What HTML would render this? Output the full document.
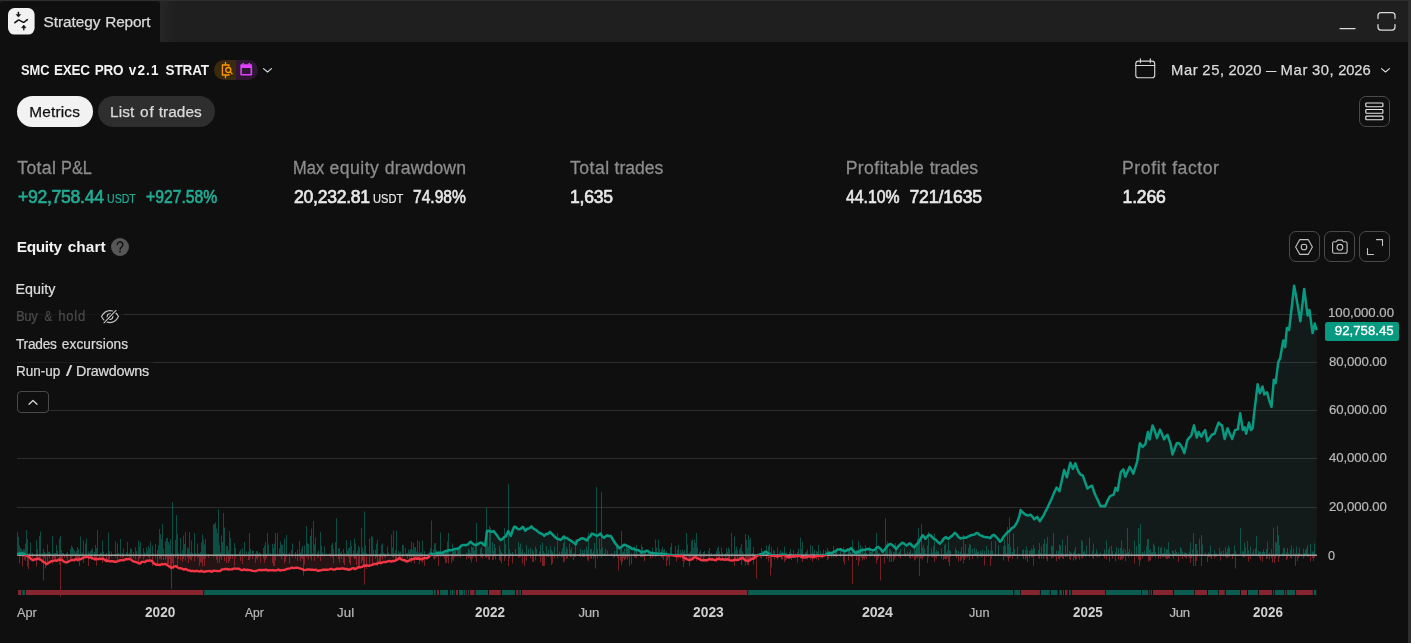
<!DOCTYPE html>
<html lang="en"><head><meta charset="utf-8"><title>Strategy Report</title>
<style>
*{box-sizing:border-box;margin:0;padding:0}
html,body{width:1411px;height:643px;overflow:hidden;background:#0f0f0f}
body{position:relative;font-family:"Liberation Sans",sans-serif;color:#dbdbdb}
.abs{position:absolute;display:block}
.t{position:absolute;white-space:pre;transform-origin:0 50%}
.btn{position:absolute;border:1px solid #4a4a4a;border-radius:7px}
</style></head><body>
<!-- header strip -->
<div class="abs" style="left:0;top:0;width:1411px;height:42px;background:#1f1f1f"></div>
<div class="abs" style="left:0;top:0;width:1411px;height:1px;background:#2e2e2e"></div>
<div class="abs" style="left:160px;top:1px;width:16px;height:41px;background:linear-gradient(90deg,#262626,#1f1f1f)"></div>
<div class="abs" style="left:0;top:1px;width:160px;height:41px;background:#0f0f0f;border-radius:4px 4px 0 0"></div>
<div class="abs" style="left:1408px;top:0;width:3px;height:643px;background:#2e2e2e"></div>
<!-- tab icon -->
<svg class="abs" style="left:8px;top:8px" width="27" height="27" viewBox="0 0 27 27">
<rect x="0" y="0" width="26.6" height="26.6" rx="6.5" fill="#f2f2f2"/>
<path d="M6.9 14.7 L9.9 12.3 Q10.6 11.8 11.3 12.2 L14.8 14.1 Q15.6 14.5 16.3 14 L19.4 11.6" fill="none" stroke="#0f0f0f" stroke-width="1.55" stroke-linecap="round" stroke-linejoin="round"/>
<path d="M10.4 4.3v3" fill="none" stroke="#0f0f0f" stroke-width="1.3" stroke-linecap="round"/>
<path d="M8.1 6.4h4.6l-2.300 2.700z" fill="#0f0f0f" stroke="#0f0f0f" stroke-width="0.5" stroke-linejoin="round"/>
<path d="M15.8 21.800v-3" fill="none" stroke="#0f0f0f" stroke-width="1.3" stroke-linecap="round"/>
<path d="M13.500 19.800h4.600l-2.300-2.700z" fill="#0f0f0f" stroke="#0f0f0f" stroke-width="0.5" stroke-linejoin="round"/>
</svg>
<!-- window controls -->
<svg class="abs" style="left:1330px;top:4px" width="72" height="34" viewBox="1330 4 72 34" fill="none" stroke="#dbdbdb" stroke-width="1.25" stroke-linecap="round">
<path d="M1340 28.5h15"/>
<path d="M1378 18.5v-3a3 3 0 0 1 3-3h11a3 3 0 0 1 3 3v3M1378 24.5v2.5a3 3 0 0 0 3 3h11a3 3 0 0 0 3-3v-2.5"/>
</svg>
<!-- title badges -->
<div class="abs" style="left:214px;top:60px;width:22px;height:20px;background:#3a2a10;border-radius:10px 0 0 10px"></div>
<div class="abs" style="left:236px;top:60px;width:22px;height:20px;background:#2e1733;border-radius:0 10px 10px 0"></div>
<svg class="abs" style="left:214px;top:60px" width="60" height="20" viewBox="214 60 60 20" fill="none">
<g stroke="#ff9800" stroke-width="1.3" stroke-linecap="round" stroke-linejoin="round">
<path d="M225.5 62.3v2.7M225.5 75v2.7M229 66.2V65h-6.6v10H229v-0.6"/>
<circle cx="228.3" cy="70" r="2.5"/>
<path d="M230.2 71.9l1.9 1.9"/>
</g>
<path d="M240.3 65.3a1 1 0 0 1 1-1h1.2v-1.2h1.4v1.2h4.6v-1.2h1.4v1.2h1.2a1 1 0 0 1 1 1v9.2a1 1 0 0 1-1 1h-9.8a1 1 0 0 1-1-1zM241.9 68v5.9h8.6V68z" fill="#e040fb" fill-rule="evenodd"/>
<path d="M263.5 68.6l4 3.4 4-3.4" stroke="#dbdbdb" stroke-width="1.1" stroke-linecap="round" stroke-linejoin="round"/>
</svg>
<!-- date range -->
<svg class="abs" style="left:1130px;top:54px" width="270" height="30" viewBox="1130 54 270 30" fill="none" stroke="#dbdbdb" stroke-width="1.1" stroke-linecap="round" stroke-linejoin="round">
<rect x="1135.8" y="61.1" width="18.9" height="16.7" rx="2.6"/>
<path d="M1135.8 65.5h18.9M1140.4 58.8v4M1150.3 58.8v4"/>
<path d="M1381.5 68.6l4 3.4 4-3.4"/>
</svg>
<!-- pills -->
<div class="abs" style="left:17px;top:95.9px;width:76px;height:30.9px;border-radius:16px;background:#f2f2f2"></div>
<div class="abs" style="left:98px;top:95.9px;width:117.1px;height:30.9px;border-radius:16px;background:#2e2e2e"></div>
<!-- list button -->
<div class="btn" style="left:1359px;top:96px;width:31px;height:31px"></div>
<svg class="abs" style="left:1359px;top:96px" width="31" height="31" viewBox="1359 96 31 31" fill="none" stroke="#e6e6e6" stroke-width="1.15">
<rect x="1365.8" y="103" width="17.1" height="3.7" rx="0.7"/>
<rect x="1365.8" y="109.5" width="17.1" height="3.7" rx="0.7"/>
<rect x="1365.8" y="116.1" width="17.1" height="3.7" rx="0.7"/>
</svg>
<!-- help icon -->
<svg class="abs" style="left:110px;top:237px" width="20" height="20" viewBox="110 237 20 20">
<circle cx="120" cy="247" r="9" fill="#575757"/>
<path d="M117.3 244.6a2.75 2.75 0 1 1 4.4 2.2c-1 .75-1.6 1.2-1.6 2.6" fill="none" stroke="#0f0f0f" stroke-width="1.4" stroke-linecap="round"/>
<circle cx="120.05" cy="251.6" r="0.95" fill="#0f0f0f"/>
</svg>
<!-- chart buttons -->
<div class="btn" style="left:1289px;top:231px;width:31px;height:31px"></div>
<div class="btn" style="left:1324px;top:231px;width:31px;height:31px"></div>
<div class="btn" style="left:1359px;top:231px;width:31px;height:31px"></div>
<svg class="abs" style="left:1289px;top:231px" width="102" height="31" viewBox="1289 231 102 31" fill="none" stroke="#c4c4c4" stroke-width="1.1" stroke-linejoin="round" stroke-linecap="round">
<path d="M1295.6 247l4.2-7.4h8.4l4.2 7.4-4.2 7.4h-8.4z"/>
<circle cx="1304" cy="247" r="2.8"/>
<path d="M1332.6 243.2a1.5 1.5 0 0 1 1.5-1.5h2.3l1.1-1.6h4.6l1.1 1.6h2.4a1.5 1.5 0 0 1 1.5 1.5v8.500a1.5 1.5 0 0 1-1.5 1.5h-11.500a1.5 1.5 0 0 1-1.5-1.5z"/>
<circle cx="1339.9" cy="247.3" r="2.9"/>
<path d="M1376.500 239.600h6v6M1373.500 254.500h-6v-6"/>
</svg>
<svg class="abs" style="left:0;top:270px" width="1411" height="340" viewBox="0 270 1411 340">
<defs>
<clipPath id="cu"><rect x="0" y="270" width="1411" height="285.0"/></clipPath>
<clipPath id="cd"><rect x="0" y="555.0" width="1411" height="60"/></clipPath>
</defs>
<rect x="17" y="314.0" width="1300" height="1" fill="#2e2e2e"/><rect x="17" y="362.0" width="1300" height="1" fill="#2e2e2e"/><rect x="17" y="410.0" width="1300" height="1" fill="#2e2e2e"/><rect x="17" y="458.0" width="1300" height="1" fill="#2e2e2e"/><rect x="17" y="507.0" width="1300" height="1" fill="#2e2e2e"/>
<path d="M17.0,554.5 L20.0,553.5 L22.0,553.4 L24.0,553.8 L27.2,556.2 L29.2,557.0 L31.2,559.2 L33.2,560.3 L34.9,559.1 L36.6,559.2 L38.3,558.5 L39.9,559.5 L41.5,560.2 L43.2,562.0 L44.8,562.4 L46.4,564.3 L48.2,563.3 L50.0,561.9 L51.7,561.1 L53.5,560.8 L55.2,560.4 L57.0,560.8 L58.8,559.5 L60.5,559.8 L62.2,560.2 L63.9,561.7 L65.6,562.3 L67.3,562.3 L69.1,561.2 L70.8,560.3 L72.6,559.8 L74.2,560.4 L75.8,558.9 L77.5,560.0 L79.1,559.1 L80.7,559.3 L82.5,558.1 L84.2,557.4 L86.0,557.1 L87.8,556.7 L89.4,557.7 L91.0,557.3 L92.7,558.4 L94.3,559.0 L95.9,559.3 L97.6,558.9 L99.3,559.0 L101.0,558.8 L102.7,558.8 L104.3,559.5 L106.0,560.8 L107.7,560.5 L109.4,561.4 L111.0,561.2 L112.7,561.2 L114.4,561.8 L116.1,561.8 L117.8,561.2 L119.4,560.5 L121.1,560.3 L122.7,560.4 L124.3,560.0 L126.0,559.0 L127.6,559.2 L129.2,558.8 L131.0,559.7 L132.8,561.2 L134.7,561.8 L136.5,562.1 L138.3,563.3 L140.0,563.6 L141.6,561.9 L143.3,561.9 L145.0,562.0 L146.7,560.7 L148.3,560.8 L150.0,560.4 L151.7,560.8 L153.4,562.9 L155.1,564.2 L156.8,564.9 L158.5,564.8 L160.2,565.1 L162.0,564.0 L163.7,564.4 L165.4,563.9 L167.4,565.3 L169.4,566.6 L171.4,567.8 L173.6,566.9 L175.7,566.1 L177.4,567.3 L179.1,568.2 L180.8,568.2 L182.5,569.0 L184.2,569.5 L185.9,568.9 L187.7,570.2 L189.4,570.4 L191.1,571.2 L192.8,570.8 L194.5,571.4 L196.2,570.8 L197.9,571.1 L199.6,571.6 L201.3,570.8 L203.0,571.6 L204.7,571.8 L206.4,571.2 L208.1,571.1 L209.8,570.9 L211.6,571.9 L213.3,570.8 L215.0,570.9 L216.7,571.0 L218.4,571.1 L220.1,571.1 L221.9,569.4 L223.6,569.4 L225.3,569.0 L227.0,569.0 L228.7,569.5 L230.4,569.4 L232.2,569.4 L233.9,568.5 L235.6,568.6 L237.3,568.7 L239.0,568.8 L240.7,569.8 L242.4,570.2 L244.1,569.3 L245.8,570.1 L247.5,569.8 L249.2,570.1 L251.0,570.3 L252.7,570.9 L254.4,571.1 L256.1,571.0 L257.8,570.3 L259.5,569.8 L261.2,570.2 L262.9,569.9 L264.6,570.0 L266.3,569.7 L268.0,570.5 L269.7,570.2 L271.5,570.1 L273.2,570.3 L274.9,570.5 L276.6,570.4 L278.3,569.5 L280.0,570.5 L281.8,570.1 L283.5,570.0 L285.2,569.7 L286.9,569.0 L288.6,568.6 L290.3,568.4 L292.0,567.7 L293.7,568.2 L295.4,567.8 L297.1,567.6 L298.8,568.1 L300.6,568.7 L302.3,569.1 L304.0,570.1 L305.7,569.9 L307.4,569.5 L309.1,569.4 L310.8,569.7 L312.6,569.7 L314.3,570.1 L316.0,569.6 L317.7,570.9 L319.4,570.5 L321.1,570.4 L322.8,569.7 L324.5,569.7 L326.2,569.6 L327.9,569.7 L329.6,569.3 L331.3,568.7 L333.1,569.6 L334.8,569.6 L336.5,568.7 L338.2,568.7 L339.9,568.9 L341.6,568.4 L343.2,568.5 L344.9,569.0 L346.6,568.9 L348.3,569.9 L350.0,569.5 L351.7,568.6 L353.4,568.1 L355.1,569.1 L356.9,568.1 L358.6,567.1 L360.3,567.3 L362.0,566.9 L363.7,565.6 L365.4,565.8 L367.1,565.3 L368.8,565.8 L370.5,565.4 L372.3,564.9 L374.0,564.0 L375.7,564.1 L377.4,563.5 L379.1,562.7 L380.8,563.2 L382.5,562.4 L384.2,561.9 L385.9,562.1 L387.6,561.3 L389.4,560.9 L391.1,561.6 L392.8,561.0 L394.5,561.0 L396.2,560.1 L397.9,559.3 L399.6,558.1 L401.3,559.4 L403.1,560.2 L404.8,560.2 L406.5,561.5 L408.2,561.0 L409.9,560.2 L411.6,559.1 L413.3,559.3 L415.0,558.4 L416.7,558.7 L418.5,558.5 L420.2,559.0 L421.9,559.2 L423.6,558.4 L425.3,557.9 L427.0,558.2 L428.7,557.1 L431.3,553.6 L433.1,554.2 L435.0,554.1 L436.9,553.1 L438.7,552.8 L440.5,552.7 L442.4,553.0 L444.1,551.8 L445.8,551.0 L447.5,550.9 L449.2,549.9 L450.9,550.2 L452.6,549.9 L454.4,549.0 L456.1,549.0 L457.8,548.5 L459.5,547.8 L461.2,545.6 L462.9,545.1 L464.6,545.1 L466.3,545.2 L468.0,544.4 L470.6,541.7 L472.8,543.8 L474.9,545.1 L476.6,544.9 L478.3,543.9 L480.0,542.8 L481.7,542.7 L483.4,544.6 L485.2,545.6 L486.9,531.1 L488.6,530.8 L490.3,531.6 L492.0,531.8 L493.7,531.1 L495.4,533.2 L497.1,535.4 L498.9,538.4 L500.6,540.0 L502.3,539.2 L504.0,537.2 L505.7,536.5 L508.3,531.1 L510.8,535.9 L512.5,530.8 L514.2,526.8 L515.9,527.1 L517.7,529.1 L519.4,529.3 L521.1,528.5 L522.8,526.8 L525.4,530.7 L527.4,528.7 L529.4,528.3 L531.4,526.3 L533.1,528.4 L534.8,529.3 L536.5,530.3 L538.2,531.9 L540.2,533.3 L542.2,534.0 L544.2,535.9 L546.1,533.8 L548.1,533.9 L550.0,531.9 L551.7,533.8 L553.4,535.3 L555.1,537.0 L556.8,538.7 L558.6,538.9 L560.3,540.0 L562.0,538.8 L563.7,536.5 L565.4,538.0 L567.1,538.1 L568.8,539.6 L570.5,540.4 L572.2,541.7 L574.0,542.8 L575.7,544.4 L577.4,540.5 L579.1,539.9 L580.8,538.6 L582.5,538.2 L584.6,539.2 L586.8,540.5 L588.5,537.6 L590.2,536.5 L591.9,533.6 L593.6,534.1 L595.3,535.1 L597.0,535.9 L598.8,534.9 L600.5,533.6 L602.2,536.4 L603.9,537.9 L605.6,536.5 L607.3,535.3 L609.0,536.2 L610.7,535.9 L612.9,539.5 L615.0,543.0 L617.1,545.6 L619.3,548.2 L621.5,546.7 L623.6,545.1 L625.3,544.8 L627.0,545.9 L628.7,546.5 L630.4,547.3 L632.1,549.0 L633.8,548.6 L635.6,550.0 L637.3,549.9 L639.4,550.7 L641.5,552.4 L643.2,551.8 L645.0,551.6 L646.7,550.7 L648.8,551.9 L650.9,553.0 L652.6,552.9 L654.3,553.3 L656.1,553.5 L657.8,553.6 L659.5,554.2 L661.2,553.4 L662.9,554.3 L664.7,554.0 L666.4,554.3 L668.1,555.2 L669.8,555.0 L671.5,555.1 L673.2,555.3 L674.9,555.8 L676.6,556.1 L678.3,555.6 L680.0,555.9 L681.7,555.9 L683.5,557.2 L685.2,558.4 L687.3,559.3 L689.4,560.1 L691.4,559.4 L693.4,558.0 L695.4,557.1 L697.1,558.0 L698.9,558.9 L700.6,559.8 L702.3,560.4 L704.0,560.0 L705.7,560.2 L707.4,560.2 L709.1,559.1 L710.8,559.5 L712.5,559.3 L714.2,560.0 L715.9,560.0 L717.6,559.0 L719.4,559.0 L721.1,559.6 L722.8,559.1 L724.5,559.8 L726.2,559.5 L727.9,559.2 L729.6,560.2 L731.4,560.4 L733.1,560.6 L734.8,559.5 L736.5,560.1 L738.2,559.8 L739.9,559.0 L741.6,558.1 L743.3,558.4 L745.0,560.3 L746.7,560.5 L748.4,561.0 L750.0,560.1 L751.7,558.7 L753.4,558.8 L755.1,557.1 L756.8,556.0 L758.6,555.1 L760.3,554.2 L762.0,554.1 L763.7,553.0 L765.4,551.6 L767.1,552.4 L768.8,554.0 L770.5,555.4 L772.2,555.7 L774.0,555.8 L775.7,555.9 L777.4,556.7 L779.1,555.8 L780.8,555.7 L782.5,554.7 L784.2,554.7 L785.9,556.2 L787.6,556.8 L789.3,557.6 L791.0,556.5 L792.8,556.5 L794.5,556.5 L796.2,555.9 L797.9,556.1 L799.6,555.6 L801.4,557.2 L803.1,557.1 L804.8,557.6 L806.5,557.1 L808.2,556.4 L809.9,556.6 L811.6,556.2 L813.3,557.2 L815.0,556.7 L816.7,556.1 L818.4,555.6 L820.2,555.8 L821.9,556.3 L823.6,555.4 L825.3,555.3 L827.0,553.8 L828.7,553.1 L830.4,553.0 L832.1,552.9 L833.8,551.7 L835.6,551.2 L837.3,549.6 L839.0,549.5 L840.7,549.3 L842.4,550.6 L844.1,550.7 L845.8,551.2 L847.5,549.6 L849.2,549.9 L850.9,548.2 L852.6,550.1 L854.4,552.1 L856.1,553.3 L857.8,551.8 L859.5,552.1 L861.2,550.1 L862.9,549.9 L864.6,550.1 L866.3,549.2 L868.0,549.0 L869.7,549.2 L871.5,549.9 L873.2,550.2 L874.9,549.7 L876.6,547.6 L878.3,546.8 L880.5,548.8 L882.6,551.9 L884.8,549.2 L886.9,546.5 L888.6,544.8 L890.3,543.9 L892.3,545.0 L894.3,546.8 L896.3,549.0 L898.3,546.2 L900.3,544.4 L902.3,542.7 L904.4,543.9 L906.5,545.6 L908.2,544.2 L910.0,543.4 L912.1,545.7 L914.2,547.3 L915.9,545.0 L917.7,543.3 L919.4,541.3 L921.1,537.8 L922.8,535.3 L925.4,538.8 L927.1,536.6 L928.8,534.8 L930.5,535.4 L932.2,537.1 L933.9,538.8 L935.9,539.7 L938.0,542.3 L940.0,543.6 L941.9,541.5 L943.7,538.8 L945.6,537.1 L948.4,538.9 L950.5,536.9 L952.5,535.6 L954.6,532.9 L956.6,534.2 L958.5,537.1 L960.5,538.5 L962.4,537.9 L964.2,537.6 L966.1,537.7 L968.0,536.7 L969.7,535.8 L971.4,535.2 L973.0,534.7 L974.7,534.4 L976.4,532.9 L978.1,533.5 L979.8,535.1 L981.4,535.7 L983.1,536.5 L984.8,537.1 L986.7,537.3 L988.5,537.5 L990.4,538.0 L992.1,535.7 L993.8,534.8 L995.9,536.5 L998.0,538.8 L1000.1,541.7 L1001.8,539.8 L1003.6,536.7 L1005.3,534.8 L1007.6,532.1 L1010.0,530.5 L1011.9,528.0 L1013.7,527.3 L1015.6,524.9 L1017.5,521.3 L1019.3,516.5 L1020.6,510.0 L1023.1,512.8 L1025.4,514.5 L1027.7,515.6 L1030.5,514.7 L1032.4,516.7 L1034.3,519.3 L1037.1,516.9 L1039.9,521.2 L1041.8,518.0 L1043.6,515.6 L1045.4,511.5 L1047.3,508.1 L1049.7,502.9 L1052.0,497.9 L1054.3,492.2 L1056.6,487.6 L1059.4,491.3 L1061.8,480.5 L1064.1,469.9 L1066.9,477.3 L1068.6,469.7 L1070.3,462.8 L1072.9,468.9 L1075.3,463.3 L1077.2,468.7 L1079.0,472.7 L1080.9,474.8 L1082.8,475.5 L1085.1,482.1 L1087.4,488.5 L1089.8,486.7 L1092.1,485.7 L1093.9,491.5 L1095.8,496.0 L1098.2,500.9 L1100.5,506.3 L1102.8,506.1 L1105.2,506.3 L1107.5,500.7 L1109.8,496.5 L1111.8,495.3 L1113.7,494.5 L1115.6,487.9 L1117.5,490.7 L1119.2,481.4 L1120.8,472.1 L1123.4,469.3 L1125.3,476.8 L1127.4,471.9 L1129.6,466.9 L1131.4,469.8 L1133.3,473.6 L1135.2,467.7 L1137.1,461.8 L1139.9,443.2 L1142.6,446.9 L1145.4,444.1 L1147.9,432.0 L1149.6,439.4 L1152.5,425.4 L1154.8,431.0 L1157.0,438.1 L1160.0,429.6 L1162.0,434.1 L1164.1,439.4 L1165.8,436.5 L1167.5,434.8 L1170.6,444.1 L1172.5,454.4 L1174.7,448.6 L1176.8,443.2 L1178.4,443.0 L1180.0,444.1 L1182.2,447.9 L1184.3,453.1 L1187.4,440.0 L1189.3,437.6 L1191.2,435.7 L1194.0,425.4 L1196.8,437.6 L1198.6,432.0 L1201.4,436.6 L1203.2,432.9 L1205.1,430.1 L1207.4,441.3 L1209.6,438.2 L1211.7,434.8 L1214.5,433.8 L1216.5,428.2 L1218.6,422.6 L1220.3,424.4 L1222.0,425.4 L1224.7,438.9 L1227.5,428.2 L1229.8,433.8 L1232.2,438.9 L1235.0,430.1 L1237.8,429.2 L1240.2,413.3 L1242.8,430.1 L1244.7,427.3 L1246.2,433.8 L1249.0,422.6 L1250.9,430.1 L1252.7,428.2 L1254.0,414.3 L1255.8,399.6 L1257.6,384.3 L1259.8,393.3 L1262.5,386.5 L1264.3,394.4 L1267.0,392.2 L1269.2,400.1 L1271.5,406.8 L1273.8,379.8 L1275.6,383.2 L1278.3,361.8 L1280.1,358.4 L1281.7,349.2 L1283.3,340.4 L1285.1,347.1 L1286.9,328.0 L1289.1,330.2 L1290.8,315.1 L1292.4,301.3 L1294.1,285.8 L1295.8,294.5 L1297.5,304.3 L1300.4,321.2 L1302.3,305.4 L1304.2,289.0 L1305.9,302.5 L1307.6,315.6 L1309.4,309.9 L1312.6,333.1 L1314.8,323.5 L1316.6,330.2 L1316.6,555.0 L17.0,555.0 Z" fill="#3ca08c" fill-opacity="0.09" clip-path="url(#cu)"/>
<path d="M17.0,554.5 L20.0,553.5 L22.0,553.4 L24.0,553.8 L27.2,556.2 L29.2,557.0 L31.2,559.2 L33.2,560.3 L34.9,559.1 L36.6,559.2 L38.3,558.5 L39.9,559.5 L41.5,560.2 L43.2,562.0 L44.8,562.4 L46.4,564.3 L48.2,563.3 L50.0,561.9 L51.7,561.1 L53.5,560.8 L55.2,560.4 L57.0,560.8 L58.8,559.5 L60.5,559.8 L62.2,560.2 L63.9,561.7 L65.6,562.3 L67.3,562.3 L69.1,561.2 L70.8,560.3 L72.6,559.8 L74.2,560.4 L75.8,558.9 L77.5,560.0 L79.1,559.1 L80.7,559.3 L82.5,558.1 L84.2,557.4 L86.0,557.1 L87.8,556.7 L89.4,557.7 L91.0,557.3 L92.7,558.4 L94.3,559.0 L95.9,559.3 L97.6,558.9 L99.3,559.0 L101.0,558.8 L102.7,558.8 L104.3,559.5 L106.0,560.8 L107.7,560.5 L109.4,561.4 L111.0,561.2 L112.7,561.2 L114.4,561.8 L116.1,561.8 L117.8,561.2 L119.4,560.5 L121.1,560.3 L122.7,560.4 L124.3,560.0 L126.0,559.0 L127.6,559.2 L129.2,558.8 L131.0,559.7 L132.8,561.2 L134.7,561.8 L136.5,562.1 L138.3,563.3 L140.0,563.6 L141.6,561.9 L143.3,561.9 L145.0,562.0 L146.7,560.7 L148.3,560.8 L150.0,560.4 L151.7,560.8 L153.4,562.9 L155.1,564.2 L156.8,564.9 L158.5,564.8 L160.2,565.1 L162.0,564.0 L163.7,564.4 L165.4,563.9 L167.4,565.3 L169.4,566.6 L171.4,567.8 L173.6,566.9 L175.7,566.1 L177.4,567.3 L179.1,568.2 L180.8,568.2 L182.5,569.0 L184.2,569.5 L185.9,568.9 L187.7,570.2 L189.4,570.4 L191.1,571.2 L192.8,570.8 L194.5,571.4 L196.2,570.8 L197.9,571.1 L199.6,571.6 L201.3,570.8 L203.0,571.6 L204.7,571.8 L206.4,571.2 L208.1,571.1 L209.8,570.9 L211.6,571.9 L213.3,570.8 L215.0,570.9 L216.7,571.0 L218.4,571.1 L220.1,571.1 L221.9,569.4 L223.6,569.4 L225.3,569.0 L227.0,569.0 L228.7,569.5 L230.4,569.4 L232.2,569.4 L233.9,568.5 L235.6,568.6 L237.3,568.7 L239.0,568.8 L240.7,569.8 L242.4,570.2 L244.1,569.3 L245.8,570.1 L247.5,569.8 L249.2,570.1 L251.0,570.3 L252.7,570.9 L254.4,571.1 L256.1,571.0 L257.8,570.3 L259.5,569.8 L261.2,570.2 L262.9,569.9 L264.6,570.0 L266.3,569.7 L268.0,570.5 L269.7,570.2 L271.5,570.1 L273.2,570.3 L274.9,570.5 L276.6,570.4 L278.3,569.5 L280.0,570.5 L281.8,570.1 L283.5,570.0 L285.2,569.7 L286.9,569.0 L288.6,568.6 L290.3,568.4 L292.0,567.7 L293.7,568.2 L295.4,567.8 L297.1,567.6 L298.8,568.1 L300.6,568.7 L302.3,569.1 L304.0,570.1 L305.7,569.9 L307.4,569.5 L309.1,569.4 L310.8,569.7 L312.6,569.7 L314.3,570.1 L316.0,569.6 L317.7,570.9 L319.4,570.5 L321.1,570.4 L322.8,569.7 L324.5,569.7 L326.2,569.6 L327.9,569.7 L329.6,569.3 L331.3,568.7 L333.1,569.6 L334.8,569.6 L336.5,568.7 L338.2,568.7 L339.9,568.9 L341.6,568.4 L343.2,568.5 L344.9,569.0 L346.6,568.9 L348.3,569.9 L350.0,569.5 L351.7,568.6 L353.4,568.1 L355.1,569.1 L356.9,568.1 L358.6,567.1 L360.3,567.3 L362.0,566.9 L363.7,565.6 L365.4,565.8 L367.1,565.3 L368.8,565.8 L370.5,565.4 L372.3,564.9 L374.0,564.0 L375.7,564.1 L377.4,563.5 L379.1,562.7 L380.8,563.2 L382.5,562.4 L384.2,561.9 L385.9,562.1 L387.6,561.3 L389.4,560.9 L391.1,561.6 L392.8,561.0 L394.5,561.0 L396.2,560.1 L397.9,559.3 L399.6,558.1 L401.3,559.4 L403.1,560.2 L404.8,560.2 L406.5,561.5 L408.2,561.0 L409.9,560.2 L411.6,559.1 L413.3,559.3 L415.0,558.4 L416.7,558.7 L418.5,558.5 L420.2,559.0 L421.9,559.2 L423.6,558.4 L425.3,557.9 L427.0,558.2 L428.7,557.1 L431.3,553.6 L433.1,554.2 L435.0,554.1 L436.9,553.1 L438.7,552.8 L440.5,552.7 L442.4,553.0 L444.1,551.8 L445.8,551.0 L447.5,550.9 L449.2,549.9 L450.9,550.2 L452.6,549.9 L454.4,549.0 L456.1,549.0 L457.8,548.5 L459.5,547.8 L461.2,545.6 L462.9,545.1 L464.6,545.1 L466.3,545.2 L468.0,544.4 L470.6,541.7 L472.8,543.8 L474.9,545.1 L476.6,544.9 L478.3,543.9 L480.0,542.8 L481.7,542.7 L483.4,544.6 L485.2,545.6 L486.9,531.1 L488.6,530.8 L490.3,531.6 L492.0,531.8 L493.7,531.1 L495.4,533.2 L497.1,535.4 L498.9,538.4 L500.6,540.0 L502.3,539.2 L504.0,537.2 L505.7,536.5 L508.3,531.1 L510.8,535.9 L512.5,530.8 L514.2,526.8 L515.9,527.1 L517.7,529.1 L519.4,529.3 L521.1,528.5 L522.8,526.8 L525.4,530.7 L527.4,528.7 L529.4,528.3 L531.4,526.3 L533.1,528.4 L534.8,529.3 L536.5,530.3 L538.2,531.9 L540.2,533.3 L542.2,534.0 L544.2,535.9 L546.1,533.8 L548.1,533.9 L550.0,531.9 L551.7,533.8 L553.4,535.3 L555.1,537.0 L556.8,538.7 L558.6,538.9 L560.3,540.0 L562.0,538.8 L563.7,536.5 L565.4,538.0 L567.1,538.1 L568.8,539.6 L570.5,540.4 L572.2,541.7 L574.0,542.8 L575.7,544.4 L577.4,540.5 L579.1,539.9 L580.8,538.6 L582.5,538.2 L584.6,539.2 L586.8,540.5 L588.5,537.6 L590.2,536.5 L591.9,533.6 L593.6,534.1 L595.3,535.1 L597.0,535.9 L598.8,534.9 L600.5,533.6 L602.2,536.4 L603.9,537.9 L605.6,536.5 L607.3,535.3 L609.0,536.2 L610.7,535.9 L612.9,539.5 L615.0,543.0 L617.1,545.6 L619.3,548.2 L621.5,546.7 L623.6,545.1 L625.3,544.8 L627.0,545.9 L628.7,546.5 L630.4,547.3 L632.1,549.0 L633.8,548.6 L635.6,550.0 L637.3,549.9 L639.4,550.7 L641.5,552.4 L643.2,551.8 L645.0,551.6 L646.7,550.7 L648.8,551.9 L650.9,553.0 L652.6,552.9 L654.3,553.3 L656.1,553.5 L657.8,553.6 L659.5,554.2 L661.2,553.4 L662.9,554.3 L664.7,554.0 L666.4,554.3 L668.1,555.2 L669.8,555.0 L671.5,555.1 L673.2,555.3 L674.9,555.8 L676.6,556.1 L678.3,555.6 L680.0,555.9 L681.7,555.9 L683.5,557.2 L685.2,558.4 L687.3,559.3 L689.4,560.1 L691.4,559.4 L693.4,558.0 L695.4,557.1 L697.1,558.0 L698.9,558.9 L700.6,559.8 L702.3,560.4 L704.0,560.0 L705.7,560.2 L707.4,560.2 L709.1,559.1 L710.8,559.5 L712.5,559.3 L714.2,560.0 L715.9,560.0 L717.6,559.0 L719.4,559.0 L721.1,559.6 L722.8,559.1 L724.5,559.8 L726.2,559.5 L727.9,559.2 L729.6,560.2 L731.4,560.4 L733.1,560.6 L734.8,559.5 L736.5,560.1 L738.2,559.8 L739.9,559.0 L741.6,558.1 L743.3,558.4 L745.0,560.3 L746.7,560.5 L748.4,561.0 L750.0,560.1 L751.7,558.7 L753.4,558.8 L755.1,557.1 L756.8,556.0 L758.6,555.1 L760.3,554.2 L762.0,554.1 L763.7,553.0 L765.4,551.6 L767.1,552.4 L768.8,554.0 L770.5,555.4 L772.2,555.7 L774.0,555.8 L775.7,555.9 L777.4,556.7 L779.1,555.8 L780.8,555.7 L782.5,554.7 L784.2,554.7 L785.9,556.2 L787.6,556.8 L789.3,557.6 L791.0,556.5 L792.8,556.5 L794.5,556.5 L796.2,555.9 L797.9,556.1 L799.6,555.6 L801.4,557.2 L803.1,557.1 L804.8,557.6 L806.5,557.1 L808.2,556.4 L809.9,556.6 L811.6,556.2 L813.3,557.2 L815.0,556.7 L816.7,556.1 L818.4,555.6 L820.2,555.8 L821.9,556.3 L823.6,555.4 L825.3,555.3 L827.0,553.8 L828.7,553.1 L830.4,553.0 L832.1,552.9 L833.8,551.7 L835.6,551.2 L837.3,549.6 L839.0,549.5 L840.7,549.3 L842.4,550.6 L844.1,550.7 L845.8,551.2 L847.5,549.6 L849.2,549.9 L850.9,548.2 L852.6,550.1 L854.4,552.1 L856.1,553.3 L857.8,551.8 L859.5,552.1 L861.2,550.1 L862.9,549.9 L864.6,550.1 L866.3,549.2 L868.0,549.0 L869.7,549.2 L871.5,549.9 L873.2,550.2 L874.9,549.7 L876.6,547.6 L878.3,546.8 L880.5,548.8 L882.6,551.9 L884.8,549.2 L886.9,546.5 L888.6,544.8 L890.3,543.9 L892.3,545.0 L894.3,546.8 L896.3,549.0 L898.3,546.2 L900.3,544.4 L902.3,542.7 L904.4,543.9 L906.5,545.6 L908.2,544.2 L910.0,543.4 L912.1,545.7 L914.2,547.3 L915.9,545.0 L917.7,543.3 L919.4,541.3 L921.1,537.8 L922.8,535.3 L925.4,538.8 L927.1,536.6 L928.8,534.8 L930.5,535.4 L932.2,537.1 L933.9,538.8 L935.9,539.7 L938.0,542.3 L940.0,543.6 L941.9,541.5 L943.7,538.8 L945.6,537.1 L948.4,538.9 L950.5,536.9 L952.5,535.6 L954.6,532.9 L956.6,534.2 L958.5,537.1 L960.5,538.5 L962.4,537.9 L964.2,537.6 L966.1,537.7 L968.0,536.7 L969.7,535.8 L971.4,535.2 L973.0,534.7 L974.7,534.4 L976.4,532.9 L978.1,533.5 L979.8,535.1 L981.4,535.7 L983.1,536.5 L984.8,537.1 L986.7,537.3 L988.5,537.5 L990.4,538.0 L992.1,535.7 L993.8,534.8 L995.9,536.5 L998.0,538.8 L1000.1,541.7 L1001.8,539.8 L1003.6,536.7 L1005.3,534.8 L1007.6,532.1 L1010.0,530.5 L1011.9,528.0 L1013.7,527.3 L1015.6,524.9 L1017.5,521.3 L1019.3,516.5 L1020.6,510.0 L1023.1,512.8 L1025.4,514.5 L1027.7,515.6 L1030.5,514.7 L1032.4,516.7 L1034.3,519.3 L1037.1,516.9 L1039.9,521.2 L1041.8,518.0 L1043.6,515.6 L1045.4,511.5 L1047.3,508.1 L1049.7,502.9 L1052.0,497.9 L1054.3,492.2 L1056.6,487.6 L1059.4,491.3 L1061.8,480.5 L1064.1,469.9 L1066.9,477.3 L1068.6,469.7 L1070.3,462.8 L1072.9,468.9 L1075.3,463.3 L1077.2,468.7 L1079.0,472.7 L1080.9,474.8 L1082.8,475.5 L1085.1,482.1 L1087.4,488.5 L1089.8,486.7 L1092.1,485.7 L1093.9,491.5 L1095.8,496.0 L1098.2,500.9 L1100.5,506.3 L1102.8,506.1 L1105.2,506.3 L1107.5,500.7 L1109.8,496.5 L1111.8,495.3 L1113.7,494.5 L1115.6,487.9 L1117.5,490.7 L1119.2,481.4 L1120.8,472.1 L1123.4,469.3 L1125.3,476.8 L1127.4,471.9 L1129.6,466.9 L1131.4,469.8 L1133.3,473.6 L1135.2,467.7 L1137.1,461.8 L1139.9,443.2 L1142.6,446.9 L1145.4,444.1 L1147.9,432.0 L1149.6,439.4 L1152.5,425.4 L1154.8,431.0 L1157.0,438.1 L1160.0,429.6 L1162.0,434.1 L1164.1,439.4 L1165.8,436.5 L1167.5,434.8 L1170.6,444.1 L1172.5,454.4 L1174.7,448.6 L1176.8,443.2 L1178.4,443.0 L1180.0,444.1 L1182.2,447.9 L1184.3,453.1 L1187.4,440.0 L1189.3,437.6 L1191.2,435.7 L1194.0,425.4 L1196.8,437.6 L1198.6,432.0 L1201.4,436.6 L1203.2,432.9 L1205.1,430.1 L1207.4,441.3 L1209.6,438.2 L1211.7,434.8 L1214.5,433.8 L1216.5,428.2 L1218.6,422.6 L1220.3,424.4 L1222.0,425.4 L1224.7,438.9 L1227.5,428.2 L1229.8,433.8 L1232.2,438.9 L1235.0,430.1 L1237.8,429.2 L1240.2,413.3 L1242.8,430.1 L1244.7,427.3 L1246.2,433.8 L1249.0,422.6 L1250.9,430.1 L1252.7,428.2 L1254.0,414.3 L1255.8,399.6 L1257.6,384.3 L1259.8,393.3 L1262.5,386.5 L1264.3,394.4 L1267.0,392.2 L1269.2,400.1 L1271.5,406.8 L1273.8,379.8 L1275.6,383.2 L1278.3,361.8 L1280.1,358.4 L1281.7,349.2 L1283.3,340.4 L1285.1,347.1 L1286.9,328.0 L1289.1,330.2 L1290.8,315.1 L1292.4,301.3 L1294.1,285.8 L1295.8,294.5 L1297.5,304.3 L1300.4,321.2 L1302.3,305.4 L1304.2,289.0 L1305.9,302.5 L1307.6,315.6 L1309.4,309.9 L1312.6,333.1 L1314.8,323.5 L1316.6,330.2 L1316.6,555.0 L17.0,555.0 Z" fill="#f23645" fill-opacity="0.10" clip-path="url(#cd)"/>
<path d="M18,537h1v18h-1zM19,545.5h1v9.5h-1zM19,548h1v7h-1zM20,548h1v7h-1zM21,549h1v6h-1zM22,551h1v4h-1zM23,549h1v6h-1zM23,552.5h1v2.5h-1zM24,550.5h1v4.5h-1zM24,551h1v4h-1zM24,549.5h1v5.5h-1zM25,543.5h1v11.5h-1zM25,553h1v2h-1zM26,530h1v25h-1zM27,546.5h1v8.5h-1zM27,552.5h1v2.5h-1zM29,553h1v2h-1zM30,549.5h1v5.5h-1zM30,542.5h1v12.5h-1zM30,553h1v2h-1zM32,553h1v2h-1zM36,545.5h1v9.5h-1zM36,551.5h1v3.5h-1zM36,553h1v2h-1zM36,540h1v15h-1zM36,551.5h1v3.5h-1zM37,549h1v6h-1zM39,547.5h1v7.5h-1zM40,553.5h1v1.5h-1zM40,553h1v2h-1zM40,550h1v5h-1zM40,531.5h1v23.5h-1zM42,553h1v2h-1zM43,553h1v2h-1zM43,551.5h1v3.5h-1zM43,549h1v6h-1zM43,551.5h1v3.5h-1zM44,552h1v3h-1zM45,553.5h1v1.5h-1zM45,553.5h1v1.5h-1zM46,553.5h1v1.5h-1zM47,544.5h1v10.5h-1zM48,552h1v3h-1zM49,551.5h1v3.5h-1zM49,553h1v2h-1zM50,553h1v2h-1zM52,552.5h1v2.5h-1zM52,548.5h1v6.5h-1zM53,554.5h1v0.5h-1zM54,554.5h1v0.5h-1zM54,553h1v2h-1zM55,553h1v2h-1zM56,545h1v10h-1zM57,550.5h1v4.5h-1zM59,538.5h1v16.5h-1zM60,552.5h1v2.5h-1zM60,553h1v2h-1zM61,550h1v5h-1zM62,553h1v2h-1zM63,553h1v2h-1zM64,554.5h1v0.5h-1zM66,553h1v2h-1zM66,553h1v2h-1zM66,554.5h1v0.5h-1zM67,552h1v3h-1zM70,549h1v6h-1zM71,545.5h1v9.5h-1zM72,547h1v8h-1zM73,549h1v6h-1zM74,550.5h1v4.5h-1zM75,554.5h1v0.5h-1zM75,552.5h1v2.5h-1zM76,551h1v4h-1zM76,551.5h1v3.5h-1zM77,553h1v2h-1zM77,547h1v8h-1zM77,552h1v3h-1zM77,553.5h1v1.5h-1zM78,549h1v6h-1zM79,554.5h1v0.5h-1zM80,536.5h1v18.5h-1zM82,552.5h1v2.5h-1zM83,540.5h1v14.5h-1zM83,553.5h1v1.5h-1zM83,550h1v5h-1zM85,543.5h1v11.5h-1zM86,538.5h1v16.5h-1zM88,551.5h1v3.5h-1zM89,553h1v2h-1zM90,552h1v3h-1zM90,551h1v4h-1zM91,549.5h1v5.5h-1zM92,548.5h1v6.5h-1zM94,552h1v3h-1zM94,552h1v3h-1zM95,545h1v10h-1zM96,548h1v7h-1zM99,554h1v1h-1zM100,553.5h1v1.5h-1zM100,552.5h1v2.5h-1zM101,553h1v2h-1zM102,540.5h1v14.5h-1zM102,547.5h1v7.5h-1zM103,551.5h1v3.5h-1zM106,553h1v2h-1zM108,548.5h1v6.5h-1zM108,532.5h1v22.5h-1zM108,552h1v3h-1zM109,552.5h1v2.5h-1zM109,551h1v4h-1zM109,553.5h1v1.5h-1zM111,551.5h1v3.5h-1zM115,552.5h1v2.5h-1zM115,549.5h1v5.5h-1zM116,554h1v1h-1zM117,553h1v2h-1zM117,543.5h1v11.5h-1zM117,551.5h1v3.5h-1zM117,545.5h1v9.5h-1zM118,553h1v2h-1zM120,553h1v2h-1zM122,554h1v1h-1zM122,553h1v2h-1zM122,554h1v1h-1zM123,548.5h1v6.5h-1zM123,553h1v2h-1zM123,552.5h1v2.5h-1zM126,552h1v3h-1zM127,553h1v2h-1zM129,552.5h1v2.5h-1zM129,554h1v1h-1zM130,548.5h1v6.5h-1zM130,551.5h1v3.5h-1zM131,548.5h1v6.5h-1zM131,552.5h1v2.5h-1zM133,552h1v3h-1zM133,553h1v2h-1zM135,552.5h1v2.5h-1zM135,553.5h1v1.5h-1zM135,547.5h1v7.5h-1zM135,553h1v2h-1zM135,552h1v3h-1zM135,551h1v4h-1zM136,551h1v4h-1zM138,554.5h1v0.5h-1zM138,540.5h1v14.5h-1zM138,554h1v1h-1zM138,550.5h1v4.5h-1zM138,548.5h1v6.5h-1zM138,554h1v1h-1zM139,546.5h1v8.5h-1zM139,553.5h1v1.5h-1zM140,542h1v13h-1zM143,553.5h1v1.5h-1zM143,548.5h1v6.5h-1zM143,548h1v7h-1zM143,553h1v2h-1zM144,552.5h1v2.5h-1zM146,547.5h1v7.5h-1zM147,551h1v4h-1zM147,552.5h1v2.5h-1zM147,552.5h1v2.5h-1zM148,554h1v1h-1zM148,546h1v9h-1zM149,554.5h1v0.5h-1zM149,548.5h1v6.5h-1zM150,546.5h1v8.5h-1zM150,546.5h1v8.5h-1zM150,541.5h1v13.5h-1zM152,545.5h1v9.5h-1zM152,547.5h1v7.5h-1zM153,553h1v2h-1zM155,552h1v3h-1zM155,544h1v11h-1zM157,550h1v5h-1zM158,549.5h1v5.5h-1zM158,545h1v10h-1zM159,553h1v2h-1zM159,541h1v14h-1zM160,549h1v6h-1zM160,534h1v21h-1zM160,551h1v4h-1zM161,544.5h1v10.5h-1zM161,539h1v16h-1zM163,553h1v2h-1zM163,548.5h1v6.5h-1zM165,553h1v2h-1zM165,553h1v2h-1zM165,541.5h1v13.5h-1zM166,549h1v6h-1zM166,538h1v17h-1zM166,543h1v12h-1zM166,547h1v8h-1zM167,538h1v17h-1zM167,538h1v17h-1zM167,553.5h1v1.5h-1zM168,542h1v13h-1zM169,544.5h1v10.5h-1zM169,553.5h1v1.5h-1zM170,539.5h1v15.5h-1zM170,554.5h1v0.5h-1zM171,553h1v2h-1zM172,542.5h1v12.5h-1zM173,554h1v1h-1zM173,554.5h1v0.5h-1zM173,554.5h1v0.5h-1zM175,540.5h1v14.5h-1zM175,540h1v15h-1zM177,547h1v8h-1zM177,534h1v21h-1zM177,551.5h1v3.5h-1zM178,553h1v2h-1zM180,554h1v1h-1zM180,538h1v17h-1zM181,553.5h1v1.5h-1zM182,553.5h1v1.5h-1zM182,550h1v5h-1zM183,543.5h1v11.5h-1zM183,535.5h1v19.5h-1zM183,553.5h1v1.5h-1zM183,539.5h1v15.5h-1zM184,553.5h1v1.5h-1zM184,544h1v11h-1zM185,532h1v23h-1zM187,547.5h1v7.5h-1zM187,554h1v1h-1zM188,553h1v2h-1zM188,554h1v1h-1zM188,548.5h1v6.5h-1zM189,554h1v1h-1zM189,548.5h1v6.5h-1zM190,552.5h1v2.5h-1zM191,540.5h1v14.5h-1zM192,554.5h1v0.5h-1zM192,553h1v2h-1zM194,533h1v22h-1zM194,542h1v13h-1zM194,553h1v2h-1zM194,553.5h1v1.5h-1zM194,552h1v3h-1zM195,553h1v2h-1zM197,543.5h1v11.5h-1zM198,553h1v2h-1zM199,554h1v1h-1zM200,552h1v3h-1zM201,554h1v1h-1zM201,542.5h1v12.5h-1zM202,553.5h1v1.5h-1zM202,534.5h1v20.5h-1zM202,536.5h1v18.5h-1zM203,546.5h1v8.5h-1zM203,539.5h1v15.5h-1zM204,544.5h1v10.5h-1zM205,539h1v16h-1zM208,554h1v1h-1zM213,524.5h1v30.5h-1zM215,522.5h1v32.5h-1zM216,553h1v2h-1zM216,528.5h1v26.5h-1zM216,542h1v13h-1zM217,533h1v22h-1zM217,546h1v9h-1zM217,542h1v13h-1zM217,554h1v1h-1zM219,547.5h1v7.5h-1zM219,552h1v3h-1zM219,545h1v10h-1zM220,552.5h1v2.5h-1zM221,535.5h1v19.5h-1zM222,542h1v13h-1zM223,539h1v16h-1zM224,527.5h1v27.5h-1zM226,546h1v9h-1zM227,554h1v1h-1zM227,546h1v9h-1zM227,552h1v3h-1zM228,550.5h1v4.5h-1zM229,553h1v2h-1zM229,531h1v24h-1zM230,549.5h1v5.5h-1zM230,549h1v6h-1zM230,552.5h1v2.5h-1zM230,538h1v17h-1zM232,554.5h1v0.5h-1zM234,550h1v5h-1zM234,554h1v1h-1zM234,543h1v12h-1zM235,548h1v7h-1zM239,551.5h1v3.5h-1zM240,550h1v5h-1zM240,549.5h1v5.5h-1zM242,552.5h1v2.5h-1zM242,548.5h1v6.5h-1zM244,542h1v13h-1zM246,551.5h1v3.5h-1zM248,551.5h1v3.5h-1zM249,533h1v22h-1zM250,553h1v2h-1zM250,553.5h1v1.5h-1zM250,549h1v6h-1zM250,553h1v2h-1zM252,550.5h1v4.5h-1zM252,551.5h1v3.5h-1zM253,551h1v4h-1zM255,553.5h1v1.5h-1zM256,551h1v4h-1zM256,552.5h1v2.5h-1zM257,552h1v3h-1zM257,551.5h1v3.5h-1zM257,551.5h1v3.5h-1zM258,553.5h1v1.5h-1zM259,552.5h1v2.5h-1zM260,553.5h1v1.5h-1zM263,548h1v7h-1zM264,553.5h1v1.5h-1zM264,545.5h1v9.5h-1zM265,545h1v10h-1zM265,544.5h1v10.5h-1zM265,542h1v13h-1zM265,550h1v5h-1zM266,554h1v1h-1zM267,548.5h1v6.5h-1zM267,553.5h1v1.5h-1zM267,554h1v1h-1zM267,533h1v22h-1zM268,544.5h1v10.5h-1zM270,553h1v2h-1zM272,551h1v4h-1zM272,544h1v11h-1zM273,551.5h1v3.5h-1zM273,552h1v3h-1zM273,548h1v7h-1zM274,543.5h1v11.5h-1zM274,549.5h1v5.5h-1zM274,552.5h1v2.5h-1zM274,550h1v5h-1zM275,533h1v22h-1zM277,547h1v8h-1zM277,533h1v22h-1zM278,554.5h1v0.5h-1zM279,548.5h1v6.5h-1zM280,553.5h1v1.5h-1zM280,541.5h1v13.5h-1zM281,544.5h1v10.5h-1zM282,548.5h1v6.5h-1zM282,545h1v10h-1zM283,553h1v2h-1zM284,554.5h1v0.5h-1zM284,547.5h1v7.5h-1zM284,538.5h1v16.5h-1zM285,553.5h1v1.5h-1zM285,554h1v1h-1zM286,535h1v20h-1zM289,552.5h1v2.5h-1zM289,553.5h1v1.5h-1zM291,552h1v3h-1zM291,550h1v5h-1zM292,543.5h1v11.5h-1zM292,554h1v1h-1zM295,552h1v3h-1zM297,549.5h1v5.5h-1zM297,553.5h1v1.5h-1zM299,553.5h1v1.5h-1zM299,550.5h1v4.5h-1zM299,541h1v14h-1zM300,552.5h1v2.5h-1zM300,553.5h1v1.5h-1zM301,551h1v4h-1zM301,549h1v6h-1zM302,546h1v9h-1zM304,545.5h1v9.5h-1zM304,549.5h1v5.5h-1zM306,554h1v1h-1zM306,543h1v12h-1zM306,526.5h1v28.5h-1zM306,541.5h1v13.5h-1zM307,543h1v12h-1zM308,544h1v11h-1zM308,549.5h1v5.5h-1zM308,554h1v1h-1zM310,536h1v19h-1zM311,554h1v1h-1zM311,528.5h1v26.5h-1zM312,553.5h1v1.5h-1zM314,552.5h1v2.5h-1zM314,544.5h1v10.5h-1zM315,537.5h1v17.5h-1zM317,553.5h1v1.5h-1zM317,552.5h1v2.5h-1zM318,554h1v1h-1zM318,550.5h1v4.5h-1zM318,553h1v2h-1zM320,532h1v23h-1zM320,548h1v7h-1zM320,546h1v9h-1zM320,552h1v3h-1zM321,545.5h1v9.5h-1zM322,552.5h1v2.5h-1zM324,546.5h1v8.5h-1zM326,553.5h1v1.5h-1zM329,553h1v2h-1zM330,554h1v1h-1zM331,545h1v10h-1zM332,543h1v12h-1zM332,548h1v7h-1zM333,554.5h1v0.5h-1zM333,549h1v6h-1zM333,550h1v5h-1zM335,542h1v13h-1zM336,551h1v4h-1zM338,552h1v3h-1zM338,548.5h1v6.5h-1zM338,553.5h1v1.5h-1zM339,548h1v7h-1zM340,553h1v2h-1zM341,551.5h1v3.5h-1zM343,549h1v6h-1zM343,552.5h1v2.5h-1zM344,553h1v2h-1zM346,540h1v15h-1zM347,551h1v4h-1zM348,548.5h1v6.5h-1zM349,547.5h1v7.5h-1zM350,553.5h1v1.5h-1zM350,554.5h1v0.5h-1zM350,540.5h1v14.5h-1zM350,553.5h1v1.5h-1zM351,547h1v8h-1zM351,548.5h1v6.5h-1zM351,554h1v1h-1zM351,546h1v9h-1zM352,554.5h1v0.5h-1zM353,550.5h1v4.5h-1zM354,553h1v2h-1zM354,538.5h1v16.5h-1zM354,546h1v9h-1zM355,543.5h1v11.5h-1zM356,553h1v2h-1zM357,550.5h1v4.5h-1zM358,548h1v7h-1zM358,546h1v9h-1zM358,553.5h1v1.5h-1zM359,549.5h1v5.5h-1zM359,547.5h1v7.5h-1zM361,554.5h1v0.5h-1zM361,528h1v27h-1zM362,547.5h1v7.5h-1zM362,548.5h1v6.5h-1zM363,551.5h1v3.5h-1zM363,553h1v2h-1zM363,553h1v2h-1zM364,545.5h1v9.5h-1zM364,551.5h1v3.5h-1zM365,545.5h1v9.5h-1zM366,553h1v2h-1zM369,538.5h1v16.5h-1zM369,552h1v3h-1zM370,554.5h1v0.5h-1zM370,554.5h1v0.5h-1zM371,554h1v1h-1zM371,536h1v19h-1zM372,543h1v12h-1zM372,537h1v18h-1zM372,551.5h1v3.5h-1zM372,543.5h1v11.5h-1zM372,552h1v3h-1zM372,553.5h1v1.5h-1zM373,550h1v5h-1zM373,554.5h1v0.5h-1zM375,553.5h1v1.5h-1zM375,549.5h1v5.5h-1zM376,543.5h1v11.5h-1zM377,539.5h1v15.5h-1zM377,549.5h1v5.5h-1zM377,550h1v5h-1zM377,551h1v4h-1zM379,554.5h1v0.5h-1zM380,553h1v2h-1zM381,545h1v10h-1zM382,543.5h1v11.5h-1zM383,553h1v2h-1zM383,552.5h1v2.5h-1zM384,553.5h1v1.5h-1zM385,553.5h1v1.5h-1zM387,546.5h1v8.5h-1zM388,552.5h1v2.5h-1zM391,534.5h1v20.5h-1zM392,553h1v2h-1zM392,547.5h1v7.5h-1zM393,530.5h1v24.5h-1zM394,553h1v2h-1zM395,550h1v5h-1zM395,550.5h1v4.5h-1zM396,553h1v2h-1zM396,553h1v2h-1zM396,554h1v1h-1zM398,551h1v4h-1zM399,553h1v2h-1zM400,551.5h1v3.5h-1zM402,545h1v10h-1zM403,545h1v10h-1zM405,551h1v4h-1zM405,548h1v7h-1zM406,553.5h1v1.5h-1zM407,553h1v2h-1zM407,553.5h1v1.5h-1zM408,549.5h1v5.5h-1zM409,551.5h1v3.5h-1zM410,549h1v6h-1zM410,551.5h1v3.5h-1zM411,541.5h1v13.5h-1zM411,548.5h1v6.5h-1zM411,554.5h1v0.5h-1zM412,550h1v5h-1zM413,543h1v12h-1zM414,547.5h1v7.5h-1zM415,547h1v8h-1zM415,552.5h1v2.5h-1zM416,551.5h1v3.5h-1zM416,552h1v3h-1zM417,542.5h1v12.5h-1zM417,540h1v15h-1zM418,552.5h1v2.5h-1zM419,541.5h1v13.5h-1zM419,551.5h1v3.5h-1zM419,553h1v2h-1zM420,552.5h1v2.5h-1zM420,553h1v2h-1zM421,552.5h1v2.5h-1zM422,540.5h1v14.5h-1zM424,551h1v4h-1zM424,552.5h1v2.5h-1zM428,553h1v2h-1zM429,551.5h1v3.5h-1zM430,548h1v7h-1zM430,552h1v3h-1zM431,550h1v5h-1zM433,549.5h1v5.5h-1zM434,551h1v4h-1zM434,543.5h1v11.5h-1zM434,546h1v9h-1zM435,543h1v12h-1zM435,554h1v1h-1zM436,550h1v5h-1zM437,553h1v2h-1zM438,552.5h1v2.5h-1zM438,554h1v1h-1zM438,551h1v4h-1zM440,532.5h1v22.5h-1zM440,551h1v4h-1zM442,551h1v4h-1zM443,553h1v2h-1zM444,553.5h1v1.5h-1zM445,552.5h1v2.5h-1zM446,549.5h1v5.5h-1zM447,554.5h1v0.5h-1zM447,541.5h1v13.5h-1zM448,533h1v22h-1zM448,552.5h1v2.5h-1zM448,539.5h1v15.5h-1zM451,554h1v1h-1zM452,547.5h1v7.5h-1zM452,543.5h1v11.5h-1zM452,554h1v1h-1zM452,551.5h1v3.5h-1zM453,551.5h1v3.5h-1zM453,553h1v2h-1zM454,548.5h1v6.5h-1zM454,554.5h1v0.5h-1zM455,550.5h1v4.5h-1zM456,554h1v1h-1zM456,554h1v1h-1zM457,548h1v7h-1zM458,548.5h1v6.5h-1zM458,550.5h1v4.5h-1zM458,554h1v1h-1zM459,553h1v2h-1zM459,546h1v9h-1zM460,548.5h1v6.5h-1zM460,553h1v2h-1zM466,552.5h1v2.5h-1zM467,553.5h1v1.5h-1zM468,548.5h1v6.5h-1zM469,554.5h1v0.5h-1zM469,551.5h1v3.5h-1zM469,550h1v5h-1zM470,553h1v2h-1zM470,553h1v2h-1zM471,546.5h1v8.5h-1zM472,550.5h1v4.5h-1zM472,552.5h1v2.5h-1zM472,547.5h1v7.5h-1zM473,547h1v8h-1zM474,550.5h1v4.5h-1zM475,542.5h1v12.5h-1zM475,550.5h1v4.5h-1zM476,551.5h1v3.5h-1zM476,527h1v28h-1zM480,548.5h1v6.5h-1zM480,549.5h1v5.5h-1zM481,547h1v8h-1zM481,554h1v1h-1zM482,553h1v2h-1zM485,554.5h1v0.5h-1zM485,546h1v9h-1zM486,553h1v2h-1zM486,547h1v8h-1zM487,535h1v20h-1zM487,551h1v4h-1zM487,533h1v22h-1zM488,548.5h1v6.5h-1zM488,554.5h1v0.5h-1zM488,546.5h1v8.5h-1zM488,552.5h1v2.5h-1zM489,553h1v2h-1zM489,552h1v3h-1zM489,543h1v12h-1zM489,526h1v29h-1zM490,527.5h1v27.5h-1zM490,554h1v1h-1zM492,548h1v7h-1zM492,552.5h1v2.5h-1zM492,545.5h1v9.5h-1zM492,542h1v13h-1zM493,551h1v4h-1zM494,549.5h1v5.5h-1zM494,544h1v11h-1zM494,544h1v11h-1zM495,554h1v1h-1zM495,550.5h1v4.5h-1zM495,548h1v7h-1zM499,553h1v2h-1zM499,545.5h1v9.5h-1zM500,549.5h1v5.5h-1zM501,552h1v3h-1zM502,553.5h1v1.5h-1zM504,528h1v27h-1zM504,549.5h1v5.5h-1zM504,549.5h1v5.5h-1zM505,544h1v11h-1zM508,552.5h1v2.5h-1zM509,549h1v6h-1zM509,553.5h1v1.5h-1zM510,553h1v2h-1zM512,553h1v2h-1zM512,552h1v3h-1zM513,554.5h1v0.5h-1zM515,549h1v6h-1zM518,542h1v13h-1zM519,547h1v8h-1zM520,543.5h1v11.5h-1zM521,552h1v3h-1zM522,549.5h1v5.5h-1zM524,552.5h1v2.5h-1zM525,554h1v1h-1zM526,553h1v2h-1zM526,554.5h1v0.5h-1zM526,553h1v2h-1zM526,548.5h1v6.5h-1zM526,545h1v10h-1zM526,552.5h1v2.5h-1zM528,553h1v2h-1zM528,549h1v6h-1zM530,547.5h1v7.5h-1zM532,553.5h1v1.5h-1zM532,549.5h1v5.5h-1zM533,551.5h1v3.5h-1zM533,552h1v3h-1zM535,553.5h1v1.5h-1zM535,546.5h1v8.5h-1zM536,551h1v4h-1zM536,549h1v6h-1zM539,551.5h1v3.5h-1zM540,545h1v10h-1zM541,554.5h1v0.5h-1zM542,542.5h1v12.5h-1zM542,554h1v1h-1zM543,551h1v4h-1zM543,553h1v2h-1zM544,553h1v2h-1zM544,553h1v2h-1zM544,553.5h1v1.5h-1zM546,546h1v9h-1zM546,553h1v2h-1zM547,553.5h1v1.5h-1zM548,550h1v5h-1zM548,553.5h1v1.5h-1zM550,553h1v2h-1zM550,546.5h1v8.5h-1zM551,551.5h1v3.5h-1zM551,550h1v5h-1zM551,553h1v2h-1zM552,551.5h1v3.5h-1zM554,551h1v4h-1zM554,546.5h1v8.5h-1zM557,533h1v22h-1zM557,549h1v6h-1zM557,552h1v3h-1zM559,551.5h1v3.5h-1zM561,551.5h1v3.5h-1zM561,553h1v2h-1zM562,548.5h1v6.5h-1zM562,551h1v4h-1zM563,552h1v3h-1zM563,550.5h1v4.5h-1zM563,543h1v12h-1zM564,551h1v4h-1zM564,535.5h1v19.5h-1zM565,552h1v3h-1zM566,548h1v7h-1zM566,546.5h1v8.5h-1zM567,550h1v5h-1zM567,553.5h1v1.5h-1zM567,549h1v6h-1zM569,553h1v2h-1zM569,543.5h1v11.5h-1zM570,550h1v5h-1zM571,548h1v7h-1zM571,552.5h1v2.5h-1zM571,553.5h1v1.5h-1zM573,553.5h1v1.5h-1zM573,553.5h1v1.5h-1zM574,553h1v2h-1zM575,539.5h1v15.5h-1zM579,553.5h1v1.5h-1zM580,553.5h1v1.5h-1zM580,548.5h1v6.5h-1zM580,553.5h1v1.5h-1zM582,550h1v5h-1zM583,553h1v2h-1zM584,549.5h1v5.5h-1zM586,550h1v5h-1zM586,546.5h1v8.5h-1zM587,550h1v5h-1zM588,532.5h1v22.5h-1zM588,554.5h1v0.5h-1zM588,550.5h1v4.5h-1zM588,550h1v5h-1zM588,551h1v4h-1zM590,552h1v3h-1zM590,552h1v3h-1zM590,549h1v6h-1zM591,554.5h1v0.5h-1zM591,549h1v6h-1zM592,553h1v2h-1zM593,550.5h1v4.5h-1zM593,553h1v2h-1zM594,543h1v12h-1zM594,547h1v8h-1zM596,547h1v8h-1zM597,549h1v6h-1zM599,553h1v2h-1zM599,538.5h1v16.5h-1zM600,549.5h1v5.5h-1zM601,554h1v1h-1zM601,553h1v2h-1zM602,547.5h1v7.5h-1zM604,553h1v2h-1zM605,548.5h1v6.5h-1zM607,550.5h1v4.5h-1zM611,553h1v2h-1zM613,554h1v1h-1zM614,553.5h1v1.5h-1zM614,551h1v4h-1zM616,544.5h1v10.5h-1zM616,553.5h1v1.5h-1zM617,544h1v11h-1zM620,548.5h1v6.5h-1zM620,549.5h1v5.5h-1zM621,554h1v1h-1zM621,544h1v11h-1zM622,552.5h1v2.5h-1zM623,552.5h1v2.5h-1zM623,551.5h1v3.5h-1zM624,548.5h1v6.5h-1zM625,553.5h1v1.5h-1zM625,554h1v1h-1zM626,547h1v8h-1zM627,547.5h1v7.5h-1zM627,549.5h1v5.5h-1zM627,554h1v1h-1zM628,547.5h1v7.5h-1zM629,546h1v9h-1zM631,553.5h1v1.5h-1zM634,546.5h1v8.5h-1zM634,554h1v1h-1zM635,554h1v1h-1zM636,545h1v10h-1zM640,552h1v3h-1zM641,544.5h1v10.5h-1zM642,553.5h1v1.5h-1zM642,547h1v8h-1zM643,552.5h1v2.5h-1zM644,553h1v2h-1zM644,553h1v2h-1zM645,550h1v5h-1zM648,549.5h1v5.5h-1zM650,552.5h1v2.5h-1zM652,547.5h1v7.5h-1zM652,552.5h1v2.5h-1zM653,553.5h1v1.5h-1zM655,539.5h1v15.5h-1zM655,549h1v6h-1zM655,547.5h1v7.5h-1zM655,553.5h1v1.5h-1zM656,547.5h1v7.5h-1zM658,551h1v4h-1zM658,539.5h1v15.5h-1zM659,548.5h1v6.5h-1zM661,549.5h1v5.5h-1zM662,547h1v8h-1zM662,552.5h1v2.5h-1zM662,554h1v1h-1zM663,550h1v5h-1zM663,552h1v3h-1zM664,549h1v6h-1zM666,551h1v4h-1zM666,553h1v2h-1zM667,554h1v1h-1zM668,553.5h1v1.5h-1zM668,553h1v2h-1zM669,553h1v2h-1zM669,553h1v2h-1zM669,554h1v1h-1zM670,547h1v8h-1zM670,550.5h1v4.5h-1zM671,543h1v12h-1zM675,546h1v9h-1zM675,551h1v4h-1zM676,554h1v1h-1zM677,549.5h1v5.5h-1zM678,544.5h1v10.5h-1zM679,554h1v1h-1zM680,550h1v5h-1zM680,550.5h1v4.5h-1zM681,552.5h1v2.5h-1zM682,549.5h1v5.5h-1zM682,553h1v2h-1zM682,551h1v4h-1zM682,551h1v4h-1zM683,552h1v3h-1zM683,553h1v2h-1zM684,550h1v5h-1zM684,551h1v4h-1zM685,554h1v1h-1zM686,541.5h1v13.5h-1zM686,553h1v2h-1zM686,549.5h1v5.5h-1zM687,544.5h1v10.5h-1zM688,553.5h1v1.5h-1zM688,554h1v1h-1zM689,552.5h1v2.5h-1zM690,551h1v4h-1zM691,540.5h1v14.5h-1zM692,539.5h1v15.5h-1zM693,553h1v2h-1zM693,551.5h1v3.5h-1zM693,547.5h1v7.5h-1zM694,539.5h1v15.5h-1zM695,552.5h1v2.5h-1zM695,543h1v12h-1zM696,548.5h1v6.5h-1zM696,533h1v22h-1zM697,547.5h1v7.5h-1zM699,552h1v3h-1zM700,550h1v5h-1zM700,553.5h1v1.5h-1zM701,554h1v1h-1zM701,553.5h1v1.5h-1zM703,552h1v3h-1zM703,553h1v2h-1zM704,551h1v4h-1zM704,553.5h1v1.5h-1zM704,552.5h1v2.5h-1zM708,551.5h1v3.5h-1zM708,553h1v2h-1zM708,554h1v1h-1zM708,551h1v4h-1zM709,552h1v3h-1zM709,553h1v2h-1zM709,548h1v7h-1zM709,552.5h1v2.5h-1zM709,552h1v3h-1zM711,553h1v2h-1zM711,553.5h1v1.5h-1zM711,553h1v2h-1zM714,553.5h1v1.5h-1zM716,551.5h1v3.5h-1zM716,551h1v4h-1zM717,553.5h1v1.5h-1zM717,548h1v7h-1zM718,546.5h1v8.5h-1zM719,551.5h1v3.5h-1zM719,553h1v2h-1zM721,547.5h1v7.5h-1zM722,552.5h1v2.5h-1zM725,554h1v1h-1zM725,553h1v2h-1zM726,550h1v5h-1zM726,548h1v7h-1zM727,552h1v3h-1zM728,547.5h1v7.5h-1zM729,553h1v2h-1zM729,549h1v6h-1zM731,553h1v2h-1zM731,551h1v4h-1zM731,533h1v22h-1zM732,553h1v2h-1zM734,536.5h1v18.5h-1zM734,546.5h1v8.5h-1zM735,550.5h1v4.5h-1zM736,546.5h1v8.5h-1zM736,547h1v8h-1zM737,553.5h1v1.5h-1zM737,550h1v5h-1zM737,553h1v2h-1zM739,549.5h1v5.5h-1zM740,552.5h1v2.5h-1zM740,547.5h1v7.5h-1zM740,549h1v6h-1zM741,544h1v11h-1zM741,553h1v2h-1zM742,551h1v4h-1zM743,553.5h1v1.5h-1zM745,552h1v3h-1zM745,548.5h1v6.5h-1zM745,553.5h1v1.5h-1zM745,534h1v21h-1zM745,550h1v5h-1zM745,554h1v1h-1zM745,551h1v4h-1zM746,540h1v15h-1zM747,547.5h1v7.5h-1zM747,549.5h1v5.5h-1zM748,535h1v20h-1zM748,547h1v8h-1zM748,554h1v1h-1zM748,540.5h1v14.5h-1zM749,553.5h1v1.5h-1zM750,538h1v17h-1zM750,553.5h1v1.5h-1zM752,553.5h1v1.5h-1zM752,553h1v2h-1zM753,547h1v8h-1zM753,552h1v3h-1zM754,554.5h1v0.5h-1zM754,554h1v1h-1zM757,553.5h1v1.5h-1zM760,553h1v2h-1zM760,554h1v1h-1zM761,548h1v7h-1zM762,551h1v4h-1zM763,553h1v2h-1zM765,554h1v1h-1zM766,548h1v7h-1zM766,552h1v3h-1zM766,545.5h1v9.5h-1zM767,553.5h1v1.5h-1zM768,553.5h1v1.5h-1zM768,546h1v9h-1zM769,554h1v1h-1zM769,544h1v11h-1zM769,552h1v3h-1zM770,552h1v3h-1zM771,550.5h1v4.5h-1zM771,547h1v8h-1zM771,552.5h1v2.5h-1zM772,554.5h1v0.5h-1zM773,550h1v5h-1zM773,553.5h1v1.5h-1zM773,551.5h1v3.5h-1zM773,551h1v4h-1zM774,551.5h1v3.5h-1zM774,554h1v1h-1zM774,551h1v4h-1zM777,547.5h1v7.5h-1zM777,551.5h1v3.5h-1zM779,552.5h1v2.5h-1zM780,550h1v5h-1zM780,552h1v3h-1zM781,554.5h1v0.5h-1zM781,552.5h1v2.5h-1zM782,554h1v1h-1zM782,553h1v2h-1zM782,551.5h1v3.5h-1zM784,546.5h1v8.5h-1zM784,548h1v7h-1zM785,553h1v2h-1zM786,552.5h1v2.5h-1zM789,552h1v3h-1zM790,549h1v6h-1zM791,553h1v2h-1zM793,553h1v2h-1zM793,550.5h1v4.5h-1zM793,553h1v2h-1zM795,553.5h1v1.5h-1zM795,554h1v1h-1zM797,554h1v1h-1zM797,553.5h1v1.5h-1zM797,552h1v3h-1zM798,548.5h1v6.5h-1zM798,554.5h1v0.5h-1zM800,537.5h1v17.5h-1zM800,552.5h1v2.5h-1zM801,549h1v6h-1zM802,553h1v2h-1zM802,542h1v13h-1zM805,552.5h1v2.5h-1zM806,551.5h1v3.5h-1zM807,549.5h1v5.5h-1zM807,552.5h1v2.5h-1zM807,553.5h1v1.5h-1zM810,545h1v10h-1zM811,553h1v2h-1zM812,546h1v9h-1zM812,553h1v2h-1zM813,552.5h1v2.5h-1zM814,549.5h1v5.5h-1zM816,552.5h1v2.5h-1zM816,551h1v4h-1zM817,552h1v3h-1zM818,545h1v10h-1zM820,553h1v2h-1zM820,551h1v4h-1zM822,553h1v2h-1zM822,553.5h1v1.5h-1zM823,549.5h1v5.5h-1zM825,550.5h1v4.5h-1zM826,551.5h1v3.5h-1zM827,548h1v7h-1zM827,552h1v3h-1zM828,550.5h1v4.5h-1zM828,553h1v2h-1zM829,551h1v4h-1zM831,551.5h1v3.5h-1zM831,552.5h1v2.5h-1zM833,546h1v9h-1zM834,554h1v1h-1zM835,552h1v3h-1zM835,554.5h1v0.5h-1zM836,553.5h1v1.5h-1zM836,551h1v4h-1zM840,551h1v4h-1zM840,551.5h1v3.5h-1zM840,548h1v7h-1zM843,547h1v8h-1zM843,553.5h1v1.5h-1zM844,552.5h1v2.5h-1zM844,553.5h1v1.5h-1zM844,552h1v3h-1zM848,550.5h1v4.5h-1zM849,548.5h1v6.5h-1zM849,553h1v2h-1zM850,552h1v3h-1zM851,553.5h1v1.5h-1zM852,548h1v7h-1zM852,540h1v15h-1zM854,549.5h1v5.5h-1zM854,554.5h1v0.5h-1zM856,551h1v4h-1zM856,550h1v5h-1zM857,550h1v5h-1zM858,553.5h1v1.5h-1zM858,541.5h1v13.5h-1zM858,549.5h1v5.5h-1zM858,553h1v2h-1zM858,553.5h1v1.5h-1zM859,549h1v6h-1zM860,550h1v5h-1zM860,545h1v10h-1zM861,553.5h1v1.5h-1zM862,547h1v8h-1zM863,554.5h1v0.5h-1zM864,552.5h1v2.5h-1zM864,553h1v2h-1zM864,553.5h1v1.5h-1zM864,553h1v2h-1zM865,553.5h1v1.5h-1zM865,545h1v10h-1zM866,553h1v2h-1zM869,554h1v1h-1zM869,546.5h1v8.5h-1zM870,552h1v3h-1zM871,552h1v3h-1zM872,551h1v4h-1zM874,553.5h1v1.5h-1zM875,553h1v2h-1zM875,551h1v4h-1zM876,539.5h1v15.5h-1zM876,533h1v22h-1zM877,552.5h1v2.5h-1zM877,550.5h1v4.5h-1zM878,553h1v2h-1zM879,553.5h1v1.5h-1zM883,553h1v2h-1zM884,554h1v1h-1zM886,544.5h1v10.5h-1zM886,554.5h1v0.5h-1zM887,549.5h1v5.5h-1zM887,541.5h1v13.5h-1zM889,549h1v6h-1zM890,551h1v4h-1zM890,550h1v5h-1zM891,551.5h1v3.5h-1zM891,554h1v1h-1zM893,552h1v3h-1zM894,552.5h1v2.5h-1zM895,553h1v2h-1zM895,543h1v12h-1zM896,550h1v5h-1zM896,549.5h1v5.5h-1zM898,553h1v2h-1zM898,553.5h1v1.5h-1zM899,551.5h1v3.5h-1zM900,549h1v6h-1zM904,547.5h1v7.5h-1zM905,553h1v2h-1zM907,551.5h1v3.5h-1zM909,552h1v3h-1zM910,550h1v5h-1zM912,553h1v2h-1zM914,552.5h1v2.5h-1zM914,545.5h1v9.5h-1zM914,553.5h1v1.5h-1zM914,552.5h1v2.5h-1zM915,550.5h1v4.5h-1zM916,545.5h1v9.5h-1zM916,548.5h1v6.5h-1zM917,546h1v9h-1zM917,553h1v2h-1zM917,539h1v16h-1zM918,545.5h1v9.5h-1zM918,545.5h1v9.5h-1zM919,542h1v13h-1zM920,553h1v2h-1zM920,554h1v1h-1zM921,544h1v11h-1zM921,544.5h1v10.5h-1zM921,542.5h1v12.5h-1zM921,553h1v2h-1zM922,547.5h1v7.5h-1zM923,548.5h1v6.5h-1zM923,545h1v10h-1zM924,548.5h1v6.5h-1zM925,553h1v2h-1zM927,545.5h1v9.5h-1zM927,552.5h1v2.5h-1zM928,553h1v2h-1zM928,550.5h1v4.5h-1zM928,532h1v23h-1zM930,553.5h1v1.5h-1zM931,548.5h1v6.5h-1zM931,548.5h1v6.5h-1zM931,553h1v2h-1zM932,552.5h1v2.5h-1zM932,554h1v1h-1zM932,552.5h1v2.5h-1zM933,554h1v1h-1zM933,546h1v9h-1zM934,543.5h1v11.5h-1zM934,549h1v6h-1zM934,533.5h1v21.5h-1zM935,553h1v2h-1zM935,552.5h1v2.5h-1zM936,550h1v5h-1zM936,551h1v4h-1zM937,552h1v3h-1zM938,551h1v4h-1zM941,548.5h1v6.5h-1zM943,554h1v1h-1zM944,545h1v10h-1zM944,551.5h1v3.5h-1zM944,550.5h1v4.5h-1zM945,543.5h1v11.5h-1zM945,544.5h1v10.5h-1zM945,550.5h1v4.5h-1zM946,552.5h1v2.5h-1zM947,550h1v5h-1zM948,541.5h1v13.5h-1zM948,547.5h1v7.5h-1zM948,553.5h1v1.5h-1zM949,550.5h1v4.5h-1zM949,551h1v4h-1zM950,550.5h1v4.5h-1zM955,547.5h1v7.5h-1zM955,553h1v2h-1zM956,550h1v5h-1zM958,553h1v2h-1zM958,551h1v4h-1zM960,551.5h1v3.5h-1zM961,547h1v8h-1zM962,554.5h1v0.5h-1zM963,535h1v20h-1zM964,553.5h1v1.5h-1zM964,553h1v2h-1zM964,553.5h1v1.5h-1zM965,544h1v11h-1zM966,554h1v1h-1zM967,553.5h1v1.5h-1zM968,548h1v7h-1zM969,544h1v11h-1zM969,552.5h1v2.5h-1zM969,553.5h1v1.5h-1zM970,554h1v1h-1zM970,545h1v10h-1zM972,554h1v1h-1zM972,549h1v6h-1zM972,553h1v2h-1zM972,550h1v5h-1zM974,548h1v7h-1zM974,553.5h1v1.5h-1zM975,552.5h1v2.5h-1zM975,553h1v2h-1zM976,549h1v6h-1zM977,552h1v3h-1zM977,554.5h1v0.5h-1zM978,551.5h1v3.5h-1zM980,550.5h1v4.5h-1zM981,552.5h1v2.5h-1zM981,553.5h1v1.5h-1zM982,549.5h1v5.5h-1zM984,552.5h1v2.5h-1zM984,552.5h1v2.5h-1zM984,551h1v4h-1zM986,553.5h1v1.5h-1zM986,546h1v9h-1zM986,553.5h1v1.5h-1zM988,549.5h1v5.5h-1zM990,551h1v4h-1zM990,553.5h1v1.5h-1zM990,552h1v3h-1zM990,554h1v1h-1zM991,552.5h1v2.5h-1zM991,553.5h1v1.5h-1zM991,541.5h1v13.5h-1zM991,554h1v1h-1zM992,550.5h1v4.5h-1zM994,554.5h1v0.5h-1zM995,541h1v14h-1zM995,552.5h1v2.5h-1zM998,547.5h1v7.5h-1zM998,545h1v10h-1zM1003,546h1v9h-1zM1003,554.5h1v0.5h-1zM1003,551.5h1v3.5h-1zM1003,550.5h1v4.5h-1zM1004,539.5h1v15.5h-1zM1004,553.5h1v1.5h-1zM1005,548.5h1v6.5h-1zM1005,545.5h1v9.5h-1zM1005,551.5h1v3.5h-1zM1006,553.5h1v1.5h-1zM1007,527h1v28h-1zM1007,554.5h1v0.5h-1zM1008,544h1v11h-1zM1008,552h1v3h-1zM1009,550h1v5h-1zM1009,554h1v1h-1zM1010,552.5h1v2.5h-1zM1010,547h1v8h-1zM1012,552h1v3h-1zM1012,553h1v2h-1zM1012,554h1v1h-1zM1013,533.5h1v21.5h-1zM1014,549h1v6h-1zM1017,552.5h1v2.5h-1zM1017,547h1v8h-1zM1017,553.5h1v1.5h-1zM1022,552h1v3h-1zM1022,550h1v5h-1zM1023,549.5h1v5.5h-1zM1025,550h1v5h-1zM1026,552.5h1v2.5h-1zM1026,554h1v1h-1zM1026,546.5h1v8.5h-1zM1027,550.5h1v4.5h-1zM1027,551.5h1v3.5h-1zM1027,553.5h1v1.5h-1zM1029,552.5h1v2.5h-1zM1029,550.5h1v4.5h-1zM1030,551h1v4h-1zM1031,552.5h1v2.5h-1zM1031,548.5h1v6.5h-1zM1032,551h1v4h-1zM1032,549.5h1v5.5h-1zM1033,545h1v10h-1zM1033,552.5h1v2.5h-1zM1034,548h1v7h-1zM1038,552.5h1v2.5h-1zM1038,550h1v5h-1zM1039,551.5h1v3.5h-1zM1039,553.5h1v1.5h-1zM1039,552h1v3h-1zM1039,543h1v12h-1zM1039,552h1v3h-1zM1039,550h1v5h-1zM1040,553h1v2h-1zM1041,549h1v6h-1zM1041,546.5h1v8.5h-1zM1043,544h1v11h-1zM1044,547h1v8h-1zM1044,550h1v5h-1zM1044,539h1v16h-1zM1045,553h1v2h-1zM1046,551h1v4h-1zM1046,543.5h1v11.5h-1zM1046,554.5h1v0.5h-1zM1047,537h1v18h-1zM1047,552.5h1v2.5h-1zM1049,553.5h1v1.5h-1zM1051,545.5h1v9.5h-1zM1051,553h1v2h-1zM1051,551.5h1v3.5h-1zM1051,554.5h1v0.5h-1zM1052,546.5h1v8.5h-1zM1053,533h1v22h-1zM1053,552.5h1v2.5h-1zM1053,540.5h1v14.5h-1zM1053,551.5h1v3.5h-1zM1055,554.5h1v0.5h-1zM1056,551h1v4h-1zM1056,553h1v2h-1zM1056,550.5h1v4.5h-1zM1058,551h1v4h-1zM1059,544.5h1v10.5h-1zM1059,550.5h1v4.5h-1zM1060,549h1v6h-1zM1060,545.5h1v9.5h-1zM1061,553h1v2h-1zM1062,551.5h1v3.5h-1zM1062,539.5h1v15.5h-1zM1063,553.5h1v1.5h-1zM1065,549.5h1v5.5h-1zM1065,554h1v1h-1zM1065,545.5h1v9.5h-1zM1066,553.5h1v1.5h-1zM1067,535.5h1v19.5h-1zM1067,543h1v12h-1zM1067,553.5h1v1.5h-1zM1069,553.5h1v1.5h-1zM1069,551h1v4h-1zM1070,552h1v3h-1zM1071,553h1v2h-1zM1073,552.5h1v2.5h-1zM1073,553.5h1v1.5h-1zM1074,550.5h1v4.5h-1zM1075,547h1v8h-1zM1075,549h1v6h-1zM1076,554h1v1h-1zM1078,554.5h1v0.5h-1zM1078,553h1v2h-1zM1079,554.5h1v0.5h-1zM1079,554h1v1h-1zM1081,540h1v15h-1zM1081,548h1v7h-1zM1081,554.5h1v0.5h-1zM1082,541.5h1v13.5h-1zM1082,553h1v2h-1zM1083,552h1v3h-1zM1084,550.5h1v4.5h-1zM1085,554h1v1h-1zM1086,548.5h1v6.5h-1zM1086,545.5h1v9.5h-1zM1089,537.5h1v17.5h-1zM1089,552.5h1v2.5h-1zM1092,550.5h1v4.5h-1zM1093,543.5h1v11.5h-1zM1093,553.5h1v1.5h-1zM1095,553.5h1v1.5h-1zM1096,549.5h1v5.5h-1zM1097,552.5h1v2.5h-1zM1099,554h1v1h-1zM1100,552.5h1v2.5h-1zM1103,553.5h1v1.5h-1zM1104,553.5h1v1.5h-1zM1104,553h1v2h-1zM1104,549.5h1v5.5h-1zM1105,553h1v2h-1zM1106,553.5h1v1.5h-1zM1106,540.5h1v14.5h-1zM1108,549.5h1v5.5h-1zM1109,547.5h1v7.5h-1zM1109,554.5h1v0.5h-1zM1109,553h1v2h-1zM1109,547h1v8h-1zM1111,545.5h1v9.5h-1zM1112,553h1v2h-1zM1112,551h1v4h-1zM1115,552.5h1v2.5h-1zM1115,553h1v2h-1zM1116,547h1v8h-1zM1118,553.5h1v1.5h-1zM1118,548h1v7h-1zM1119,553h1v2h-1zM1120,548h1v7h-1zM1120,550.5h1v4.5h-1zM1120,553.5h1v1.5h-1zM1121,549h1v6h-1zM1121,540.5h1v14.5h-1zM1122,550.5h1v4.5h-1zM1122,553.5h1v1.5h-1zM1122,553h1v2h-1zM1123,548.5h1v6.5h-1zM1125,549.5h1v5.5h-1zM1126,553h1v2h-1zM1128,552h1v3h-1zM1129,549h1v6h-1zM1131,551.5h1v3.5h-1zM1131,553h1v2h-1zM1134,540.5h1v14.5h-1zM1136,546h1v9h-1zM1136,552.5h1v2.5h-1zM1138,540.5h1v14.5h-1zM1138,553.5h1v1.5h-1zM1138,528h1v27h-1zM1139,551h1v4h-1zM1139,549h1v6h-1zM1139,544h1v11h-1zM1139,548h1v7h-1zM1140,551.5h1v3.5h-1zM1142,552h1v3h-1zM1142,552h1v3h-1zM1142,554h1v1h-1zM1142,553.5h1v1.5h-1zM1143,553.5h1v1.5h-1zM1144,551h1v4h-1zM1146,546h1v9h-1zM1146,553.5h1v1.5h-1zM1147,539.5h1v15.5h-1zM1147,554h1v1h-1zM1148,553h1v2h-1zM1148,539h1v16h-1zM1149,550h1v5h-1zM1150,554.5h1v0.5h-1zM1150,551.5h1v3.5h-1zM1150,549h1v6h-1zM1151,553.5h1v1.5h-1zM1151,552.5h1v2.5h-1zM1152,552h1v3h-1zM1153,551h1v4h-1zM1153,543.5h1v11.5h-1zM1154,545.5h1v9.5h-1zM1155,553.5h1v1.5h-1zM1155,552h1v3h-1zM1155,553h1v2h-1zM1158,553h1v2h-1zM1158,546.5h1v8.5h-1zM1159,554.5h1v0.5h-1zM1160,548h1v7h-1zM1160,552.5h1v2.5h-1zM1161,546.5h1v8.5h-1zM1162,554.5h1v0.5h-1zM1162,553.5h1v1.5h-1zM1163,553h1v2h-1zM1164,547.5h1v7.5h-1zM1165,552.5h1v2.5h-1zM1166,553.5h1v1.5h-1zM1166,553.5h1v1.5h-1zM1166,549h1v6h-1zM1167,553h1v2h-1zM1167,549.5h1v5.5h-1zM1168,552h1v3h-1zM1168,542h1v13h-1zM1169,552.5h1v2.5h-1zM1172,550.5h1v4.5h-1zM1173,553h1v2h-1zM1173,551h1v4h-1zM1174,553.5h1v1.5h-1zM1175,549.5h1v5.5h-1zM1176,554.5h1v0.5h-1zM1176,552h1v3h-1zM1178,553.5h1v1.5h-1zM1178,552.5h1v2.5h-1zM1180,553.5h1v1.5h-1zM1180,547h1v8h-1zM1181,548.5h1v6.5h-1zM1182,551.5h1v3.5h-1zM1184,552.5h1v2.5h-1zM1184,553h1v2h-1zM1185,552.5h1v2.5h-1zM1186,553h1v2h-1zM1186,553h1v2h-1zM1188,554h1v1h-1zM1189,551.5h1v3.5h-1zM1189,552h1v3h-1zM1190,542.5h1v12.5h-1zM1191,554h1v1h-1zM1192,549.5h1v5.5h-1zM1193,552h1v3h-1zM1193,552.5h1v2.5h-1zM1193,533h1v22h-1zM1195,544h1v11h-1zM1195,549h1v6h-1zM1196,545.5h1v9.5h-1zM1196,544h1v11h-1zM1197,550.5h1v4.5h-1zM1199,538.5h1v16.5h-1zM1201,553.5h1v1.5h-1zM1201,535h1v20h-1zM1202,544.5h1v10.5h-1zM1202,544.5h1v10.5h-1zM1205,552.5h1v2.5h-1zM1208,552.5h1v2.5h-1zM1209,553.5h1v1.5h-1zM1210,553.5h1v1.5h-1zM1210,545.5h1v9.5h-1zM1211,554h1v1h-1zM1211,554h1v1h-1zM1214,552.5h1v2.5h-1zM1214,550h1v5h-1zM1215,554h1v1h-1zM1215,553.5h1v1.5h-1zM1216,553.5h1v1.5h-1zM1216,553.5h1v1.5h-1zM1219,548h1v7h-1zM1220,554h1v1h-1zM1220,552.5h1v2.5h-1zM1221,551h1v4h-1zM1223,553h1v2h-1zM1223,551h1v4h-1zM1223,550.5h1v4.5h-1zM1225,554h1v1h-1zM1225,553.5h1v1.5h-1zM1225,547h1v8h-1zM1225,553h1v2h-1zM1226,552.5h1v2.5h-1zM1226,552.5h1v2.5h-1zM1227,549h1v6h-1zM1228,545.5h1v9.5h-1zM1228,549h1v6h-1zM1229,547.5h1v7.5h-1zM1232,554h1v1h-1zM1233,553.5h1v1.5h-1zM1234,545.5h1v9.5h-1zM1235,551h1v4h-1zM1242,551h1v4h-1zM1243,551.5h1v3.5h-1zM1244,542.5h1v12.5h-1zM1244,550.5h1v4.5h-1zM1245,553.5h1v1.5h-1zM1245,547.5h1v7.5h-1zM1247,541h1v14h-1zM1247,552h1v3h-1zM1248,550.5h1v4.5h-1zM1248,552.5h1v2.5h-1zM1249,554h1v1h-1zM1250,551h1v4h-1zM1250,546.5h1v8.5h-1zM1252,552.5h1v2.5h-1zM1253,549.5h1v5.5h-1zM1255,548.5h1v6.5h-1zM1256,550h1v5h-1zM1257,554.5h1v0.5h-1zM1258,553h1v2h-1zM1258,551h1v4h-1zM1259,552h1v3h-1zM1260,553.5h1v1.5h-1zM1260,551.5h1v3.5h-1zM1260,552.5h1v2.5h-1zM1262,554h1v1h-1zM1262,552.5h1v2.5h-1zM1262,552h1v3h-1zM1262,553h1v2h-1zM1263,549.5h1v5.5h-1zM1264,552h1v3h-1zM1264,552.5h1v2.5h-1zM1266,549h1v6h-1zM1267,554h1v1h-1zM1267,546h1v9h-1zM1267,541.5h1v13.5h-1zM1269,552.5h1v2.5h-1zM1271,549h1v6h-1zM1271,549h1v6h-1zM1272,554.5h1v0.5h-1zM1273,552.5h1v2.5h-1zM1273,550h1v5h-1zM1273,550h1v5h-1zM1275,541.5h1v13.5h-1zM1275,544h1v11h-1zM1275,543h1v12h-1zM1276,543h1v12h-1zM1277,526h1v29h-1zM1278,541.5h1v13.5h-1zM1278,547.5h1v7.5h-1zM1279,553.5h1v1.5h-1zM1279,554.5h1v0.5h-1zM1279,545h1v10h-1zM1282,553h1v2h-1zM1283,547.5h1v7.5h-1zM1284,548.5h1v6.5h-1zM1286,552.5h1v2.5h-1zM1287,554h1v1h-1zM1287,553.5h1v1.5h-1zM1287,553.5h1v1.5h-1zM1287,548h1v7h-1zM1287,552.5h1v2.5h-1zM1288,553.5h1v1.5h-1zM1288,553.5h1v1.5h-1zM1290,549.5h1v5.5h-1zM1290,554.5h1v0.5h-1zM1291,545.5h1v9.5h-1zM1293,549h1v6h-1zM1293,550h1v5h-1zM1295,553h1v2h-1zM1296,546.5h1v8.5h-1zM1296,551h1v4h-1zM1297,554.5h1v0.5h-1zM1298,554.5h1v0.5h-1zM1298,553.5h1v1.5h-1zM1298,553h1v2h-1zM1299,547.5h1v7.5h-1zM1299,553.5h1v1.5h-1zM1299,554h1v1h-1zM1301,554.5h1v0.5h-1zM1301,554h1v1h-1zM1303,551.5h1v3.5h-1zM1303,548.5h1v6.5h-1zM1303,553h1v2h-1zM1303,549h1v6h-1zM1303,552.5h1v2.5h-1zM1304,553h1v2h-1zM1305,550h1v5h-1zM1306,548.5h1v6.5h-1zM1307,545h1v10h-1zM1308,553.5h1v1.5h-1zM1310,548.5h1v6.5h-1zM1310,551.5h1v3.5h-1zM1310,544h1v11h-1zM1310,554.5h1v0.5h-1zM1312,552h1v3h-1zM1312,552h1v3h-1zM1312,551.5h1v3.5h-1zM1313,551.5h1v3.5h-1zM1313,552h1v3h-1zM1314,543.5h1v11.5h-1zM17,532.0h1V555.0h-1zM27,539.0h1V555.0h-1zM39,536.0h1V555.0h-1zM52,536.0h1V555.0h-1zM60,536.0h1V555.0h-1zM97,530.0h1V555.0h-1zM115,541.0h1V555.0h-1zM120,539.0h1V555.0h-1zM127,542.0h1V555.0h-1zM140,543.0h1V555.0h-1zM159,529.0h1V555.0h-1zM162,524.0h1V555.0h-1zM172,502.0h1V555.0h-1zM176,515.0h1V555.0h-1zM189,532.0h1V555.0h-1zM218,509.2h1V555.0h-1zM223,513.1h1V555.0h-1zM214,524.0h1V555.0h-1zM306,526.0h1V555.0h-1zM313,521.0h1V555.0h-1zM336,518.2h1V555.0h-1zM364,511.4h1V555.0h-1zM396,531.0h1V555.0h-1zM431,520.5h1V555.0h-1zM476,523.0h1V555.0h-1zM486,507.6h1V555.0h-1zM508,484.0h1V555.0h-1zM596,487.0h1V555.0h-1zM601,492.0h1V555.0h-1zM621,531.0h1V555.0h-1zM686,533.0h1V555.0h-1zM749,540.0h1V555.0h-1zM885,518.2h1V555.0h-1zM918,528.0h1V555.0h-1zM921,524.0h1V555.0h-1zM1009,517.6h1V555.0h-1zM1127,528.0h1V555.0h-1zM1140,524.0h1V555.0h-1zM1240,528.0h1V555.0h-1zM1256,536.0h1V555.0h-1zM1273,527.7h1V555.0h-1zM1278,535.0h1V555.0h-1z" fill="#089981" fill-opacity="0.46"/>
<path d="M18,555h1v1h-1zM19,555h1v1h-1zM19,555h1v8.5h-1zM20,555h1v0.5h-1zM21,555h1v0.5h-1zM22,555h1v11.5h-1zM23,555h1v1.5h-1zM23,555h1v2h-1zM24,555h1v1h-1zM24,555h1v2.5h-1zM24,555h1v4.5h-1zM25,555h1v6h-1zM25,555h1v5h-1zM26,555h1v1h-1zM27,555h1v11.5h-1zM27,555h1v7h-1zM29,555h1v1h-1zM30,555h1v1.5h-1zM30,555h1v1h-1zM30,555h1v2.5h-1zM32,555h1v3h-1zM36,555h1v1.5h-1zM36,555h1v11.5h-1zM36,555h1v2h-1zM36,555h1v0.5h-1zM36,555h1v6h-1zM37,555h1v5.5h-1zM39,555h1v5.5h-1zM40,555h1v0.5h-1zM40,555h1v5.5h-1zM40,555h1v3h-1zM40,555h1v2.5h-1zM42,555h1v1.5h-1zM43,555h1v3h-1zM43,555h1v0.5h-1zM43,555h1v1.5h-1zM43,555h1v6.5h-1zM44,555h1v2.5h-1zM45,555h1v7h-1zM45,555h1v13.5h-1zM46,555h1v0.5h-1zM47,555h1v8.5h-1zM48,555h1v1.5h-1zM49,555h1v1h-1zM49,555h1v3.5h-1zM50,555h1v1h-1zM52,555h1v9h-1zM52,555h1v1.5h-1zM53,555h1v3h-1zM54,555h1v3.5h-1zM54,555h1v4h-1zM55,555h1v4.5h-1zM56,555h1v1h-1zM57,555h1v2h-1zM59,555h1v9.5h-1zM60,555h1v6h-1zM60,555h1v1h-1zM61,555h1v6h-1zM62,555h1v4.5h-1zM63,555h1v1h-1zM64,555h1v3h-1zM66,555h1v2.5h-1zM66,555h1v1h-1zM66,555h1v1h-1zM67,555h1v6h-1zM70,555h1v4h-1zM71,555h1v3.5h-1zM72,555h1v1.5h-1zM73,555h1v0.5h-1zM74,555h1v1h-1zM75,555h1v2.5h-1zM75,555h1v1.5h-1zM76,555h1v4.5h-1zM76,555h1v1.5h-1zM77,555h1v3h-1zM77,555h1v6.5h-1zM77,555h1v6h-1zM77,555h1v1h-1zM78,555h1v6.5h-1zM79,555h1v11h-1zM80,555h1v1h-1zM82,555h1v0.5h-1zM83,555h1v8h-1zM83,555h1v5.5h-1zM83,555h1v1.5h-1zM85,555h1v1.5h-1zM86,555h1v2h-1zM88,555h1v11h-1zM89,555h1v1h-1zM90,555h1v1h-1zM90,555h1v1.5h-1zM91,555h1v5h-1zM92,555h1v0.5h-1zM94,555h1v0.5h-1zM94,555h1v6h-1zM95,555h1v3.5h-1zM96,555h1v1h-1zM99,555h1v3.5h-1zM100,555h1v1h-1zM100,555h1v0.5h-1zM101,555h1v1.5h-1zM102,555h1v1.5h-1zM102,555h1v8h-1zM103,555h1v3h-1zM106,555h1v8h-1zM108,555h1v2h-1zM108,555h1v1.5h-1zM108,555h1v4.5h-1zM109,555h1v4.5h-1zM109,555h1v0.5h-1zM109,555h1v4.5h-1zM111,555h1v2h-1zM115,555h1v1.5h-1zM115,555h1v2.5h-1zM116,555h1v0.5h-1zM117,555h1v1h-1zM117,555h1v1h-1zM117,555h1v5h-1zM117,555h1v1.5h-1zM118,555h1v0.5h-1zM120,555h1v2.5h-1zM122,555h1v1h-1zM122,555h1v2h-1zM122,555h1v3.5h-1zM123,555h1v1h-1zM123,555h1v2h-1zM123,555h1v1.5h-1zM126,555h1v1h-1zM127,555h1v1.5h-1zM129,555h1v2h-1zM129,555h1v1.5h-1zM130,555h1v2.5h-1zM130,555h1v1.5h-1zM131,555h1v2h-1zM131,555h1v3.5h-1zM133,555h1v3h-1zM133,555h1v1h-1zM135,555h1v4.5h-1zM135,555h1v1.5h-1zM135,555h1v1h-1zM135,555h1v0.5h-1zM135,555h1v1.5h-1zM135,555h1v4h-1zM136,555h1v1h-1zM138,555h1v1h-1zM138,555h1v2h-1zM138,555h1v0.5h-1zM138,555h1v0.5h-1zM138,555h1v7.5h-1zM138,555h1v3h-1zM139,555h1v1h-1zM139,555h1v3.5h-1zM140,555h1v3h-1zM143,555h1v0.5h-1zM143,555h1v1h-1zM143,555h1v4.5h-1zM143,555h1v1.5h-1zM144,555h1v2h-1zM146,555h1v1.5h-1zM147,555h1v0.5h-1zM147,555h1v1h-1zM147,555h1v0.5h-1zM148,555h1v2h-1zM148,555h1v2h-1zM149,555h1v2.5h-1zM149,555h1v3.5h-1zM150,555h1v0.5h-1zM150,555h1v1.5h-1zM150,555h1v1.5h-1zM152,555h1v11h-1zM152,555h1v1h-1zM153,555h1v1h-1zM155,555h1v3.5h-1zM155,555h1v2h-1zM157,555h1v9h-1zM158,555h1v1h-1zM158,555h1v1h-1zM159,555h1v4h-1zM159,555h1v1h-1zM160,555h1v2.5h-1zM160,555h1v3.5h-1zM160,555h1v0.5h-1zM161,555h1v3.5h-1zM161,555h1v5h-1zM163,555h1v5h-1zM163,555h1v4.5h-1zM165,555h1v5h-1zM165,555h1v1.5h-1zM165,555h1v1.5h-1zM166,555h1v1.5h-1zM166,555h1v0.5h-1zM166,555h1v0.5h-1zM166,555h1v3h-1zM167,555h1v1h-1zM167,555h1v9h-1zM167,555h1v1h-1zM168,555h1v9h-1zM169,555h1v1h-1zM169,555h1v4h-1zM170,555h1v14.5h-1zM170,555h1v8.5h-1zM171,555h1v15h-1zM172,555h1v8h-1zM173,555h1v14.5h-1zM173,555h1v11h-1zM173,555h1v6.5h-1zM175,555h1v0.5h-1zM175,555h1v3h-1zM177,555h1v0.5h-1zM177,555h1v6h-1zM177,555h1v12h-1zM178,555h1v4h-1zM180,555h1v5.5h-1zM180,555h1v3h-1zM181,555h1v0.5h-1zM182,555h1v5h-1zM182,555h1v7h-1zM183,555h1v1.5h-1zM183,555h1v2h-1zM183,555h1v2h-1zM183,555h1v4h-1zM184,555h1v1h-1zM184,555h1v1.5h-1zM185,555h1v5.5h-1zM187,555h1v2.5h-1zM187,555h1v0.5h-1zM188,555h1v6h-1zM188,555h1v8h-1zM188,555h1v6h-1zM189,555h1v3.5h-1zM189,555h1v1h-1zM190,555h1v4.5h-1zM191,555h1v5.5h-1zM192,555h1v1h-1zM192,555h1v2h-1zM194,555h1v1h-1zM194,555h1v0.5h-1zM194,555h1v0.5h-1zM194,555h1v6h-1zM194,555h1v1h-1zM195,555h1v2h-1zM197,555h1v3.5h-1zM198,555h1v2h-1zM199,555h1v11h-1zM200,555h1v7.5h-1zM201,555h1v7.5h-1zM201,555h1v3.5h-1zM202,555h1v11h-1zM202,555h1v1.5h-1zM202,555h1v0.5h-1zM203,555h1v4.5h-1zM203,555h1v0.5h-1zM204,555h1v11h-1zM205,555h1v3.5h-1zM208,555h1v3h-1zM213,555h1v2.5h-1zM215,555h1v1.5h-1zM216,555h1v4.5h-1zM216,555h1v1.5h-1zM216,555h1v3h-1zM217,555h1v7h-1zM217,555h1v5.5h-1zM217,555h1v8h-1zM217,555h1v0.5h-1zM219,555h1v1.5h-1zM219,555h1v8h-1zM219,555h1v1.5h-1zM220,555h1v2.5h-1zM221,555h1v5h-1zM222,555h1v0.5h-1zM223,555h1v1.5h-1zM224,555h1v6h-1zM226,555h1v8h-1zM227,555h1v1h-1zM227,555h1v1.5h-1zM227,555h1v1h-1zM228,555h1v8h-1zM229,555h1v6h-1zM229,555h1v1h-1zM230,555h1v1.5h-1zM230,555h1v3.5h-1zM230,555h1v3.5h-1zM230,555h1v4h-1zM232,555h1v4h-1zM234,555h1v8h-1zM234,555h1v2h-1zM234,555h1v11h-1zM235,555h1v2.5h-1zM239,555h1v1.5h-1zM240,555h1v6h-1zM240,555h1v0.5h-1zM242,555h1v1h-1zM242,555h1v9h-1zM244,555h1v2.5h-1zM246,555h1v1.5h-1zM248,555h1v5h-1zM249,555h1v5h-1zM250,555h1v1h-1zM250,555h1v1h-1zM250,555h1v2h-1zM250,555h1v0.5h-1zM252,555h1v2h-1zM252,555h1v4h-1zM253,555h1v0.5h-1zM255,555h1v8h-1zM256,555h1v2h-1zM256,555h1v3.5h-1zM257,555h1v3.5h-1zM257,555h1v2.5h-1zM257,555h1v4.5h-1zM258,555h1v2h-1zM259,555h1v1.5h-1zM260,555h1v7.5h-1zM263,555h1v3.5h-1zM264,555h1v8h-1zM264,555h1v5h-1zM265,555h1v1.5h-1zM265,555h1v5h-1zM265,555h1v2h-1zM265,555h1v2.5h-1zM266,555h1v3h-1zM267,555h1v1h-1zM267,555h1v0.5h-1zM267,555h1v1h-1zM267,555h1v0.5h-1zM268,555h1v1h-1zM270,555h1v1.5h-1zM272,555h1v8h-1zM272,555h1v1.5h-1zM273,555h1v0.5h-1zM273,555h1v4h-1zM273,555h1v11h-1zM274,555h1v2h-1zM274,555h1v11h-1zM274,555h1v0.5h-1zM274,555h1v1.5h-1zM275,555h1v5.5h-1zM277,555h1v0.5h-1zM277,555h1v1.5h-1zM278,555h1v1h-1zM279,555h1v1.5h-1zM280,555h1v1.5h-1zM280,555h1v1.5h-1zM281,555h1v4.5h-1zM282,555h1v1.5h-1zM282,555h1v1h-1zM283,555h1v1h-1zM284,555h1v7h-1zM284,555h1v2h-1zM284,555h1v8.5h-1zM285,555h1v6h-1zM285,555h1v3.5h-1zM286,555h1v2h-1zM289,555h1v0.5h-1zM289,555h1v8.5h-1zM291,555h1v1.5h-1zM291,555h1v1.5h-1zM292,555h1v0.5h-1zM292,555h1v2.5h-1zM295,555h1v3.5h-1zM297,555h1v0.5h-1zM297,555h1v6h-1zM299,555h1v2h-1zM299,555h1v2h-1zM299,555h1v1h-1zM300,555h1v6h-1zM300,555h1v4h-1zM301,555h1v3h-1zM301,555h1v0.5h-1zM302,555h1v4h-1zM304,555h1v4.5h-1zM304,555h1v9.5h-1zM306,555h1v0.5h-1zM306,555h1v1.5h-1zM306,555h1v2.5h-1zM306,555h1v1h-1zM307,555h1v1.5h-1zM308,555h1v3h-1zM308,555h1v4.5h-1zM308,555h1v1h-1zM310,555h1v2.5h-1zM311,555h1v5.5h-1zM311,555h1v0.5h-1zM312,555h1v0.5h-1zM314,555h1v6h-1zM314,555h1v3h-1zM315,555h1v1h-1zM317,555h1v2.5h-1zM317,555h1v1.5h-1zM318,555h1v1h-1zM318,555h1v2.5h-1zM318,555h1v1h-1zM320,555h1v2.5h-1zM320,555h1v6h-1zM320,555h1v4.5h-1zM320,555h1v1h-1zM321,555h1v1h-1zM322,555h1v1.5h-1zM324,555h1v1.5h-1zM326,555h1v1h-1zM329,555h1v0.5h-1zM330,555h1v2.5h-1zM331,555h1v1h-1zM332,555h1v0.5h-1zM332,555h1v2.5h-1zM333,555h1v8.5h-1zM333,555h1v1h-1zM333,555h1v1h-1zM335,555h1v0.5h-1zM336,555h1v1.5h-1zM338,555h1v4h-1zM338,555h1v0.5h-1zM338,555h1v3.5h-1zM339,555h1v7.5h-1zM340,555h1v1.5h-1zM341,555h1v4h-1zM343,555h1v1.5h-1zM343,555h1v8h-1zM344,555h1v10h-1zM346,555h1v2h-1zM347,555h1v0.5h-1zM348,555h1v2.5h-1zM349,555h1v8h-1zM350,555h1v4h-1zM350,555h1v2.5h-1zM350,555h1v1h-1zM350,555h1v10h-1zM351,555h1v0.5h-1zM351,555h1v1.5h-1zM351,555h1v0.5h-1zM351,555h1v2h-1zM352,555h1v0.5h-1zM353,555h1v2.5h-1zM354,555h1v4.5h-1zM354,555h1v4h-1zM354,555h1v1h-1zM355,555h1v3.5h-1zM356,555h1v10h-1zM357,555h1v1h-1zM358,555h1v11.5h-1zM358,555h1v11.5h-1zM358,555h1v0.5h-1zM359,555h1v12h-1zM359,555h1v4h-1zM361,555h1v8h-1zM361,555h1v1.5h-1zM362,555h1v5.5h-1zM362,555h1v4h-1zM363,555h1v12h-1zM363,555h1v3.5h-1zM363,555h1v12h-1zM364,555h1v14.5h-1zM364,555h1v5.5h-1zM365,555h1v0.5h-1zM366,555h1v14h-1zM369,555h1v1.5h-1zM369,555h1v12h-1zM370,555h1v1h-1zM370,555h1v1.5h-1zM371,555h1v0.5h-1zM371,555h1v1.5h-1zM372,555h1v11h-1zM372,555h1v2h-1zM372,555h1v4h-1zM372,555h1v1.5h-1zM372,555h1v0.5h-1zM372,555h1v5.5h-1zM373,555h1v0.5h-1zM373,555h1v1.5h-1zM375,555h1v0.5h-1zM375,555h1v4h-1zM376,555h1v2h-1zM377,555h1v11h-1zM377,555h1v5h-1zM377,555h1v0.5h-1zM377,555h1v3.5h-1zM379,555h1v8h-1zM380,555h1v8h-1zM381,555h1v2h-1zM382,555h1v4.5h-1zM383,555h1v1h-1zM383,555h1v1.5h-1zM384,555h1v2.5h-1zM385,555h1v2.5h-1zM387,555h1v0.5h-1zM388,555h1v1h-1zM391,555h1v0.5h-1zM392,555h1v2h-1zM392,555h1v1.5h-1zM393,555h1v3h-1zM394,555h1v0.5h-1zM395,555h1v4.5h-1zM395,555h1v6h-1zM396,555h1v6h-1zM396,555h1v2h-1zM396,555h1v2.5h-1zM398,555h1v1.5h-1zM399,555h1v2h-1zM400,555h1v4.5h-1zM402,555h1v2.5h-1zM403,555h1v1.5h-1zM405,555h1v1h-1zM405,555h1v0.5h-1zM406,555h1v1.5h-1zM407,555h1v3.5h-1zM407,555h1v2.5h-1zM408,555h1v1h-1zM409,555h1v3.5h-1zM410,555h1v1.5h-1zM410,555h1v1h-1zM411,555h1v8h-1zM411,555h1v3.5h-1zM411,555h1v0.5h-1zM412,555h1v1.5h-1zM413,555h1v2.5h-1zM414,555h1v8.5h-1zM415,555h1v1.5h-1zM415,555h1v4h-1zM416,555h1v2.5h-1zM416,555h1v3h-1zM417,555h1v4.5h-1zM417,555h1v0.5h-1zM418,555h1v3h-1zM419,555h1v9h-1zM419,555h1v8.5h-1zM419,555h1v8.5h-1zM420,555h1v4h-1zM420,555h1v5.5h-1zM421,555h1v2h-1zM422,555h1v8h-1zM424,555h1v11h-1zM424,555h1v0.5h-1zM428,555h1v1.5h-1zM429,555h1v2.5h-1zM430,555h1v1h-1zM430,555h1v1.5h-1zM431,555h1v1h-1zM433,555h1v3.5h-1zM434,555h1v1h-1zM434,555h1v4.5h-1zM434,555h1v2h-1zM435,555h1v2.5h-1zM435,555h1v3.5h-1zM436,555h1v2h-1zM437,555h1v1.5h-1zM438,555h1v11h-1zM438,555h1v4.5h-1zM438,555h1v1h-1zM440,555h1v2h-1zM440,555h1v0.5h-1zM442,555h1v1.5h-1zM443,555h1v1.5h-1zM444,555h1v3.5h-1zM445,555h1v8h-1zM446,555h1v8h-1zM447,555h1v2.5h-1zM447,555h1v1h-1zM448,555h1v4h-1zM448,555h1v1h-1zM448,555h1v8.5h-1zM451,555h1v8h-1zM452,555h1v4.5h-1zM452,555h1v1h-1zM452,555h1v3.5h-1zM452,555h1v3h-1zM453,555h1v6h-1zM453,555h1v5h-1zM454,555h1v0.5h-1zM454,555h1v2.5h-1zM455,555h1v1.5h-1zM456,555h1v1.5h-1zM456,555h1v1.5h-1zM457,555h1v1.5h-1zM458,555h1v0.5h-1zM458,555h1v1.5h-1zM458,555h1v1h-1zM459,555h1v1h-1zM459,555h1v1.5h-1zM460,555h1v1.5h-1zM460,555h1v2.5h-1zM466,555h1v4.5h-1zM467,555h1v1.5h-1zM468,555h1v3h-1zM469,555h1v2.5h-1zM469,555h1v2h-1zM469,555h1v1.5h-1zM470,555h1v4.5h-1zM470,555h1v2h-1zM471,555h1v7.5h-1zM472,555h1v0.5h-1zM472,555h1v3.5h-1zM472,555h1v1h-1zM473,555h1v1.5h-1zM474,555h1v1.5h-1zM475,555h1v2.5h-1zM475,555h1v1.5h-1zM476,555h1v0.5h-1zM476,555h1v7h-1zM480,555h1v1h-1zM480,555h1v2.5h-1zM481,555h1v2h-1zM481,555h1v2h-1zM482,555h1v3.5h-1zM485,555h1v1.5h-1zM485,555h1v2.5h-1zM486,555h1v3h-1zM486,555h1v1.5h-1zM487,555h1v1.5h-1zM487,555h1v1.5h-1zM487,555h1v2h-1zM488,555h1v1.5h-1zM488,555h1v1.5h-1zM488,555h1v4.5h-1zM488,555h1v2h-1zM489,555h1v5h-1zM489,555h1v2h-1zM489,555h1v4h-1zM489,555h1v1h-1zM490,555h1v1.5h-1zM490,555h1v1h-1zM492,555h1v2h-1zM492,555h1v1.5h-1zM492,555h1v1h-1zM492,555h1v5h-1zM493,555h1v4.5h-1zM494,555h1v1.5h-1zM494,555h1v1h-1zM494,555h1v1.5h-1zM495,555h1v4h-1zM495,555h1v2h-1zM495,555h1v4.5h-1zM499,555h1v5h-1zM499,555h1v0.5h-1zM500,555h1v6h-1zM501,555h1v8.5h-1zM502,555h1v1h-1zM504,555h1v1h-1zM504,555h1v6h-1zM504,555h1v1h-1zM505,555h1v3h-1zM508,555h1v11h-1zM509,555h1v3.5h-1zM509,555h1v2.5h-1zM510,555h1v1h-1zM512,555h1v8.5h-1zM512,555h1v1h-1zM513,555h1v1.5h-1zM515,555h1v1h-1zM518,555h1v3h-1zM519,555h1v2h-1zM520,555h1v2h-1zM521,555h1v1h-1zM522,555h1v8.5h-1zM524,555h1v11h-1zM525,555h1v1.5h-1zM526,555h1v2h-1zM526,555h1v5.5h-1zM526,555h1v5h-1zM526,555h1v5h-1zM526,555h1v4.5h-1zM526,555h1v4.5h-1zM528,555h1v0.5h-1zM528,555h1v0.5h-1zM530,555h1v3h-1zM532,555h1v1.5h-1zM532,555h1v7h-1zM533,555h1v7h-1zM533,555h1v5.5h-1zM535,555h1v5.5h-1zM535,555h1v5h-1zM536,555h1v0.5h-1zM536,555h1v1.5h-1zM539,555h1v1.5h-1zM540,555h1v7.5h-1zM541,555h1v1.5h-1zM542,555h1v0.5h-1zM542,555h1v11h-1zM543,555h1v1h-1zM543,555h1v11h-1zM544,555h1v1h-1zM544,555h1v11h-1zM544,555h1v1h-1zM546,555h1v1.5h-1zM546,555h1v0.5h-1zM547,555h1v1.5h-1zM548,555h1v1.5h-1zM548,555h1v2h-1zM550,555h1v2.5h-1zM550,555h1v1h-1zM551,555h1v1h-1zM551,555h1v0.5h-1zM551,555h1v10h-1zM552,555h1v8.5h-1zM554,555h1v3.5h-1zM554,555h1v2h-1zM557,555h1v1.5h-1zM557,555h1v1h-1zM557,555h1v3.5h-1zM559,555h1v1.5h-1zM561,555h1v2.5h-1zM561,555h1v1.5h-1zM562,555h1v1.5h-1zM562,555h1v0.5h-1zM563,555h1v1.5h-1zM563,555h1v7.5h-1zM563,555h1v1.5h-1zM564,555h1v5h-1zM564,555h1v6.5h-1zM565,555h1v1h-1zM566,555h1v1.5h-1zM566,555h1v4h-1zM567,555h1v3.5h-1zM567,555h1v3h-1zM567,555h1v1h-1zM569,555h1v1h-1zM569,555h1v1h-1zM570,555h1v2.5h-1zM571,555h1v2h-1zM571,555h1v1h-1zM571,555h1v1h-1zM573,555h1v5h-1zM573,555h1v1h-1zM574,555h1v2h-1zM575,555h1v2h-1zM579,555h1v1.5h-1zM580,555h1v1h-1zM580,555h1v1.5h-1zM580,555h1v2h-1zM582,555h1v2h-1zM583,555h1v2h-1zM584,555h1v2h-1zM586,555h1v1.5h-1zM586,555h1v1h-1zM587,555h1v4.5h-1zM588,555h1v3h-1zM588,555h1v2.5h-1zM588,555h1v2.5h-1zM588,555h1v6h-1zM588,555h1v0.5h-1zM590,555h1v2h-1zM590,555h1v3.5h-1zM590,555h1v1.5h-1zM591,555h1v3.5h-1zM591,555h1v2h-1zM592,555h1v1h-1zM593,555h1v3.5h-1zM593,555h1v4h-1zM594,555h1v2h-1zM594,555h1v1h-1zM596,555h1v0.5h-1zM597,555h1v3.5h-1zM599,555h1v1.5h-1zM599,555h1v1.5h-1zM600,555h1v0.5h-1zM601,555h1v0.5h-1zM601,555h1v3h-1zM602,555h1v1h-1zM604,555h1v0.5h-1zM605,555h1v1.5h-1zM607,555h1v1h-1zM611,555h1v0.5h-1zM613,555h1v2.5h-1zM614,555h1v2h-1zM614,555h1v1.5h-1zM616,555h1v0.5h-1zM616,555h1v1h-1zM617,555h1v3h-1zM620,555h1v5.5h-1zM620,555h1v0.5h-1zM621,555h1v5.5h-1zM621,555h1v10h-1zM622,555h1v7h-1zM623,555h1v0.5h-1zM623,555h1v3h-1zM624,555h1v5h-1zM625,555h1v0.5h-1zM625,555h1v4.5h-1zM626,555h1v2.5h-1zM627,555h1v2h-1zM627,555h1v1h-1zM627,555h1v4.5h-1zM628,555h1v2h-1zM629,555h1v11h-1zM631,555h1v9h-1zM634,555h1v1.5h-1zM634,555h1v2.5h-1zM635,555h1v2.5h-1zM636,555h1v3h-1zM640,555h1v2h-1zM641,555h1v2.5h-1zM642,555h1v0.5h-1zM642,555h1v2h-1zM643,555h1v2h-1zM644,555h1v6h-1zM644,555h1v3.5h-1zM645,555h1v0.5h-1zM648,555h1v1h-1zM650,555h1v3.5h-1zM652,555h1v2.5h-1zM652,555h1v1.5h-1zM653,555h1v1.5h-1zM655,555h1v1h-1zM655,555h1v1h-1zM655,555h1v2.5h-1zM655,555h1v1.5h-1zM656,555h1v1.5h-1zM658,555h1v1h-1zM658,555h1v1.5h-1zM659,555h1v1h-1zM661,555h1v2.5h-1zM662,555h1v1h-1zM662,555h1v1h-1zM662,555h1v2.5h-1zM663,555h1v5h-1zM663,555h1v3h-1zM664,555h1v1.5h-1zM666,555h1v1.5h-1zM666,555h1v11h-1zM667,555h1v5.5h-1zM668,555h1v2.5h-1zM668,555h1v1.5h-1zM669,555h1v2.5h-1zM669,555h1v10.5h-1zM669,555h1v3.5h-1zM670,555h1v0.5h-1zM670,555h1v0.5h-1zM671,555h1v1.5h-1zM675,555h1v0.5h-1zM675,555h1v1.5h-1zM676,555h1v6.5h-1zM677,555h1v1h-1zM678,555h1v3.5h-1zM679,555h1v2.5h-1zM680,555h1v1h-1zM680,555h1v3.5h-1zM681,555h1v1h-1zM682,555h1v0.5h-1zM682,555h1v6h-1zM682,555h1v6h-1zM682,555h1v1.5h-1zM683,555h1v2.5h-1zM683,555h1v1h-1zM684,555h1v7h-1zM684,555h1v6.5h-1zM685,555h1v1h-1zM686,555h1v2h-1zM686,555h1v4.5h-1zM686,555h1v4.5h-1zM687,555h1v0.5h-1zM688,555h1v1.5h-1zM688,555h1v1h-1zM689,555h1v11.5h-1zM690,555h1v2.5h-1zM691,555h1v1.5h-1zM692,555h1v2h-1zM693,555h1v5.5h-1zM693,555h1v2.5h-1zM693,555h1v1h-1zM694,555h1v1h-1zM695,555h1v1.5h-1zM695,555h1v0.5h-1zM696,555h1v1h-1zM696,555h1v6h-1zM697,555h1v1.5h-1zM699,555h1v1.5h-1zM700,555h1v5h-1zM700,555h1v1h-1zM701,555h1v0.5h-1zM701,555h1v2.5h-1zM703,555h1v1.5h-1zM703,555h1v4.5h-1zM704,555h1v1.5h-1zM704,555h1v1h-1zM704,555h1v2h-1zM708,555h1v1.5h-1zM708,555h1v1.5h-1zM708,555h1v1h-1zM708,555h1v1.5h-1zM709,555h1v1.5h-1zM709,555h1v1.5h-1zM709,555h1v0.5h-1zM709,555h1v4.5h-1zM709,555h1v0.5h-1zM711,555h1v1.5h-1zM711,555h1v1.5h-1zM711,555h1v1h-1zM714,555h1v1h-1zM716,555h1v3h-1zM716,555h1v7h-1zM717,555h1v1h-1zM717,555h1v1h-1zM718,555h1v3h-1zM719,555h1v4.5h-1zM719,555h1v2h-1zM721,555h1v2h-1zM722,555h1v2.5h-1zM725,555h1v2.5h-1zM725,555h1v3.5h-1zM726,555h1v1.5h-1zM726,555h1v1.5h-1zM727,555h1v1.5h-1zM728,555h1v3.5h-1zM729,555h1v3h-1zM729,555h1v5h-1zM731,555h1v2h-1zM731,555h1v1h-1zM731,555h1v2h-1zM732,555h1v1h-1zM734,555h1v11h-1zM734,555h1v0.5h-1zM735,555h1v3h-1zM736,555h1v0.5h-1zM736,555h1v1.5h-1zM737,555h1v1.5h-1zM737,555h1v2h-1zM737,555h1v3.5h-1zM739,555h1v4.5h-1zM740,555h1v0.5h-1zM740,555h1v1.5h-1zM740,555h1v1.5h-1zM741,555h1v6.5h-1zM741,555h1v10h-1zM742,555h1v3h-1zM743,555h1v5h-1zM745,555h1v4h-1zM745,555h1v0.5h-1zM745,555h1v10.5h-1zM745,555h1v1h-1zM745,555h1v3h-1zM745,555h1v10h-1zM745,555h1v5.5h-1zM746,555h1v3.5h-1zM747,555h1v10h-1zM747,555h1v1h-1zM748,555h1v1.5h-1zM748,555h1v10.5h-1zM748,555h1v1h-1zM748,555h1v3h-1zM749,555h1v5h-1zM750,555h1v2.5h-1zM750,555h1v3h-1zM752,555h1v3h-1zM752,555h1v1.5h-1zM753,555h1v9.5h-1zM753,555h1v1.5h-1zM754,555h1v3.5h-1zM754,555h1v0.5h-1zM757,555h1v2h-1zM760,555h1v2.5h-1zM760,555h1v3h-1zM761,555h1v3.5h-1zM762,555h1v1h-1zM763,555h1v1.5h-1zM765,555h1v1h-1zM766,555h1v1.5h-1zM766,555h1v4h-1zM766,555h1v1h-1zM767,555h1v1h-1zM768,555h1v6.5h-1zM768,555h1v3h-1zM769,555h1v2h-1zM769,555h1v3h-1zM769,555h1v1.5h-1zM770,555h1v5h-1zM771,555h1v2.5h-1zM771,555h1v12.5h-1zM771,555h1v1h-1zM772,555h1v1.5h-1zM773,555h1v1.5h-1zM773,555h1v0.5h-1zM773,555h1v2h-1zM773,555h1v0.5h-1zM774,555h1v1h-1zM774,555h1v1h-1zM774,555h1v4.5h-1zM777,555h1v4.5h-1zM777,555h1v1.5h-1zM779,555h1v0.5h-1zM780,555h1v2.5h-1zM780,555h1v1.5h-1zM781,555h1v4.5h-1zM781,555h1v3.5h-1zM782,555h1v1h-1zM782,555h1v4.5h-1zM782,555h1v2.5h-1zM784,555h1v7h-1zM784,555h1v1.5h-1zM785,555h1v5.5h-1zM786,555h1v4.5h-1zM789,555h1v1.5h-1zM790,555h1v0.5h-1zM791,555h1v5h-1zM793,555h1v1.5h-1zM793,555h1v1.5h-1zM793,555h1v1h-1zM795,555h1v3.5h-1zM795,555h1v1.5h-1zM797,555h1v7.5h-1zM797,555h1v2h-1zM797,555h1v5h-1zM798,555h1v1h-1zM798,555h1v2.5h-1zM800,555h1v1h-1zM800,555h1v0.5h-1zM801,555h1v2h-1zM802,555h1v7h-1zM802,555h1v1.5h-1zM805,555h1v1h-1zM806,555h1v0.5h-1zM807,555h1v4.5h-1zM807,555h1v1h-1zM807,555h1v4.5h-1zM810,555h1v4.5h-1zM811,555h1v3.5h-1zM812,555h1v3.5h-1zM812,555h1v6.5h-1zM813,555h1v0.5h-1zM814,555h1v4h-1zM816,555h1v4.5h-1zM816,555h1v0.5h-1zM817,555h1v1h-1zM818,555h1v5.5h-1zM820,555h1v0.5h-1zM820,555h1v2h-1zM822,555h1v1.5h-1zM822,555h1v3h-1zM823,555h1v1.5h-1zM825,555h1v0.5h-1zM826,555h1v0.5h-1zM827,555h1v1h-1zM827,555h1v5h-1zM828,555h1v1.5h-1zM828,555h1v4h-1zM829,555h1v0.5h-1zM831,555h1v2.5h-1zM831,555h1v2.5h-1zM833,555h1v2.5h-1zM834,555h1v1h-1zM835,555h1v1.5h-1zM835,555h1v1h-1zM836,555h1v2.5h-1zM836,555h1v1.5h-1zM840,555h1v1h-1zM840,555h1v1.5h-1zM840,555h1v2h-1zM843,555h1v2.5h-1zM843,555h1v6.5h-1zM844,555h1v1h-1zM844,555h1v6h-1zM844,555h1v9.5h-1zM848,555h1v5.5h-1zM849,555h1v1h-1zM849,555h1v1h-1zM850,555h1v1.5h-1zM851,555h1v2h-1zM852,555h1v6.5h-1zM852,555h1v2.5h-1zM854,555h1v0.5h-1zM854,555h1v0.5h-1zM856,555h1v1.5h-1zM856,555h1v5h-1zM857,555h1v1h-1zM858,555h1v4h-1zM858,555h1v3.5h-1zM858,555h1v10.5h-1zM858,555h1v1.5h-1zM858,555h1v6h-1zM859,555h1v6h-1zM860,555h1v1.5h-1zM860,555h1v1h-1zM861,555h1v3h-1zM862,555h1v5.5h-1zM863,555h1v3.5h-1zM864,555h1v0.5h-1zM864,555h1v2.5h-1zM864,555h1v4.5h-1zM864,555h1v0.5h-1zM865,555h1v2h-1zM865,555h1v1h-1zM866,555h1v4h-1zM869,555h1v1.5h-1zM869,555h1v1h-1zM870,555h1v1.5h-1zM871,555h1v1h-1zM872,555h1v1h-1zM874,555h1v2.5h-1zM875,555h1v1h-1zM875,555h1v1.5h-1zM876,555h1v8.5h-1zM876,555h1v3.5h-1zM877,555h1v5h-1zM877,555h1v1.5h-1zM878,555h1v3h-1zM879,555h1v0.5h-1zM883,555h1v0.5h-1zM884,555h1v8.5h-1zM886,555h1v1.5h-1zM886,555h1v1h-1zM887,555h1v1h-1zM887,555h1v3.5h-1zM889,555h1v7h-1zM890,555h1v2.5h-1zM890,555h1v1.5h-1zM891,555h1v7h-1zM891,555h1v3h-1zM893,555h1v6.5h-1zM894,555h1v4.5h-1zM895,555h1v2h-1zM895,555h1v2h-1zM896,555h1v1h-1zM896,555h1v1.5h-1zM898,555h1v2h-1zM898,555h1v1.5h-1zM899,555h1v1.5h-1zM900,555h1v3.5h-1zM904,555h1v1.5h-1zM905,555h1v1.5h-1zM907,555h1v1h-1zM909,555h1v3h-1zM910,555h1v3.5h-1zM912,555h1v2.5h-1zM914,555h1v5.5h-1zM914,555h1v0.5h-1zM914,555h1v3h-1zM914,555h1v4.5h-1zM915,555h1v4.5h-1zM916,555h1v1h-1zM916,555h1v2.5h-1zM917,555h1v1.5h-1zM917,555h1v1h-1zM917,555h1v3.5h-1zM918,555h1v2h-1zM918,555h1v1h-1zM919,555h1v2h-1zM920,555h1v2h-1zM920,555h1v3.5h-1zM921,555h1v1h-1zM921,555h1v3.5h-1zM921,555h1v1.5h-1zM921,555h1v3.5h-1zM922,555h1v4.5h-1zM923,555h1v2h-1zM923,555h1v0.5h-1zM924,555h1v1.5h-1zM925,555h1v1h-1zM927,555h1v8h-1zM927,555h1v3h-1zM928,555h1v2.5h-1zM928,555h1v2.5h-1zM928,555h1v1h-1zM930,555h1v1h-1zM931,555h1v1h-1zM931,555h1v1.5h-1zM931,555h1v2h-1zM932,555h1v1h-1zM932,555h1v1h-1zM932,555h1v2h-1zM933,555h1v0.5h-1zM933,555h1v2h-1zM934,555h1v2h-1zM934,555h1v7h-1zM934,555h1v4.5h-1zM935,555h1v1h-1zM935,555h1v2.5h-1zM936,555h1v0.5h-1zM936,555h1v3.5h-1zM937,555h1v1h-1zM938,555h1v0.5h-1zM941,555h1v3.5h-1zM943,555h1v5h-1zM944,555h1v0.5h-1zM944,555h1v3.5h-1zM944,555h1v1h-1zM945,555h1v4h-1zM945,555h1v2h-1zM945,555h1v4.5h-1zM946,555h1v4h-1zM947,555h1v2.5h-1zM948,555h1v7h-1zM948,555h1v1h-1zM948,555h1v1.5h-1zM949,555h1v1.5h-1zM949,555h1v11h-1zM950,555h1v2h-1zM955,555h1v0.5h-1zM955,555h1v0.5h-1zM956,555h1v3h-1zM958,555h1v6.5h-1zM958,555h1v1h-1zM960,555h1v6h-1zM961,555h1v4.5h-1zM962,555h1v2.5h-1zM963,555h1v8.5h-1zM964,555h1v2.5h-1zM964,555h1v1h-1zM964,555h1v5h-1zM965,555h1v3h-1zM966,555h1v1.5h-1zM967,555h1v2.5h-1zM968,555h1v1.5h-1zM969,555h1v1h-1zM969,555h1v1h-1zM969,555h1v5h-1zM970,555h1v1h-1zM970,555h1v1h-1zM972,555h1v4h-1zM972,555h1v1.5h-1zM972,555h1v1.5h-1zM972,555h1v1.5h-1zM974,555h1v1h-1zM974,555h1v1h-1zM975,555h1v1h-1zM975,555h1v0.5h-1zM976,555h1v1h-1zM977,555h1v2h-1zM977,555h1v3.5h-1zM978,555h1v1.5h-1zM980,555h1v1.5h-1zM981,555h1v2h-1zM981,555h1v1h-1zM982,555h1v1.5h-1zM984,555h1v4.5h-1zM984,555h1v10.5h-1zM984,555h1v7.5h-1zM986,555h1v2h-1zM986,555h1v1.5h-1zM986,555h1v2h-1zM988,555h1v1.5h-1zM990,555h1v2h-1zM990,555h1v1.5h-1zM990,555h1v11h-1zM990,555h1v1h-1zM991,555h1v3.5h-1zM991,555h1v3h-1zM991,555h1v1h-1zM991,555h1v1.5h-1zM992,555h1v1h-1zM994,555h1v1h-1zM995,555h1v1.5h-1zM995,555h1v1h-1zM998,555h1v1h-1zM998,555h1v1.5h-1zM1003,555h1v5.5h-1zM1003,555h1v1h-1zM1003,555h1v1.5h-1zM1003,555h1v3.5h-1zM1004,555h1v1.5h-1zM1004,555h1v1.5h-1zM1005,555h1v1.5h-1zM1005,555h1v1.5h-1zM1005,555h1v0.5h-1zM1006,555h1v1.5h-1zM1007,555h1v1h-1zM1007,555h1v2.5h-1zM1008,555h1v0.5h-1zM1008,555h1v6.5h-1zM1009,555h1v3h-1zM1009,555h1v1.5h-1zM1010,555h1v1h-1zM1010,555h1v2h-1zM1012,555h1v1h-1zM1012,555h1v4h-1zM1012,555h1v0.5h-1zM1013,555h1v1h-1zM1014,555h1v1h-1zM1017,555h1v0.5h-1zM1017,555h1v1.5h-1zM1017,555h1v4h-1zM1022,555h1v1h-1zM1022,555h1v1.5h-1zM1023,555h1v4h-1zM1025,555h1v4.5h-1zM1026,555h1v2h-1zM1026,555h1v1.5h-1zM1026,555h1v2.5h-1zM1027,555h1v3.5h-1zM1027,555h1v1.5h-1zM1027,555h1v7h-1zM1029,555h1v2h-1zM1029,555h1v3h-1zM1030,555h1v1h-1zM1031,555h1v2h-1zM1031,555h1v0.5h-1zM1032,555h1v1h-1zM1032,555h1v2h-1zM1033,555h1v1.5h-1zM1033,555h1v1h-1zM1034,555h1v1.5h-1zM1038,555h1v2h-1zM1038,555h1v3h-1zM1039,555h1v2h-1zM1039,555h1v2.5h-1zM1039,555h1v2.5h-1zM1039,555h1v1.5h-1zM1039,555h1v4h-1zM1039,555h1v0.5h-1zM1040,555h1v1h-1zM1041,555h1v3h-1zM1041,555h1v3.5h-1zM1043,555h1v4h-1zM1044,555h1v1h-1zM1044,555h1v1.5h-1zM1044,555h1v0.5h-1zM1045,555h1v1h-1zM1046,555h1v1h-1zM1046,555h1v4h-1zM1046,555h1v1h-1zM1047,555h1v2.5h-1zM1047,555h1v6h-1zM1049,555h1v1.5h-1zM1051,555h1v3.5h-1zM1051,555h1v1h-1zM1051,555h1v3h-1zM1051,555h1v2.5h-1zM1052,555h1v2.5h-1zM1053,555h1v2.5h-1zM1053,555h1v2.5h-1zM1053,555h1v1h-1zM1053,555h1v2.5h-1zM1055,555h1v2h-1zM1056,555h1v1.5h-1zM1056,555h1v6h-1zM1056,555h1v1h-1zM1058,555h1v3.5h-1zM1059,555h1v3h-1zM1059,555h1v4.5h-1zM1060,555h1v1.5h-1zM1060,555h1v2.5h-1zM1061,555h1v2h-1zM1062,555h1v3.5h-1zM1062,555h1v1.5h-1zM1063,555h1v4h-1zM1065,555h1v2.5h-1zM1065,555h1v1.5h-1zM1065,555h1v0.5h-1zM1066,555h1v1.5h-1zM1067,555h1v1h-1zM1067,555h1v2h-1zM1067,555h1v2h-1zM1069,555h1v3.5h-1zM1069,555h1v4h-1zM1070,555h1v5h-1zM1071,555h1v1.5h-1zM1073,555h1v2h-1zM1073,555h1v5.5h-1zM1074,555h1v2.5h-1zM1075,555h1v5h-1zM1075,555h1v1.5h-1zM1076,555h1v4h-1zM1078,555h1v1.5h-1zM1078,555h1v2.5h-1zM1079,555h1v1h-1zM1079,555h1v4.5h-1zM1081,555h1v0.5h-1zM1081,555h1v3h-1zM1081,555h1v1h-1zM1082,555h1v1.5h-1zM1082,555h1v3.5h-1zM1083,555h1v1.5h-1zM1084,555h1v1h-1zM1085,555h1v2h-1zM1086,555h1v0.5h-1zM1086,555h1v0.5h-1zM1089,555h1v0.5h-1zM1089,555h1v2h-1zM1092,555h1v2.5h-1zM1093,555h1v4h-1zM1093,555h1v2h-1zM1095,555h1v0.5h-1zM1096,555h1v1.5h-1zM1097,555h1v2.5h-1zM1099,555h1v2h-1zM1100,555h1v0.5h-1zM1103,555h1v1h-1zM1104,555h1v3.5h-1zM1104,555h1v0.5h-1zM1104,555h1v0.5h-1zM1105,555h1v0.5h-1zM1106,555h1v4.5h-1zM1106,555h1v2h-1zM1108,555h1v1h-1zM1109,555h1v6.5h-1zM1109,555h1v1h-1zM1109,555h1v3h-1zM1109,555h1v1.5h-1zM1111,555h1v0.5h-1zM1112,555h1v3.5h-1zM1112,555h1v1.5h-1zM1115,555h1v6h-1zM1115,555h1v2h-1zM1116,555h1v0.5h-1zM1118,555h1v4.5h-1zM1118,555h1v3.5h-1zM1119,555h1v1h-1zM1120,555h1v0.5h-1zM1120,555h1v1h-1zM1120,555h1v5h-1zM1121,555h1v4.5h-1zM1121,555h1v1.5h-1zM1122,555h1v2.5h-1zM1122,555h1v2.5h-1zM1122,555h1v4.5h-1zM1123,555h1v3h-1zM1125,555h1v0.5h-1zM1126,555h1v0.5h-1zM1128,555h1v2.5h-1zM1129,555h1v1h-1zM1131,555h1v1h-1zM1131,555h1v1.5h-1zM1134,555h1v8.5h-1zM1136,555h1v2h-1zM1136,555h1v2h-1zM1138,555h1v3h-1zM1138,555h1v4.5h-1zM1138,555h1v1.5h-1zM1139,555h1v11h-1zM1139,555h1v0.5h-1zM1139,555h1v0.5h-1zM1139,555h1v2h-1zM1140,555h1v5.5h-1zM1142,555h1v1.5h-1zM1142,555h1v1h-1zM1142,555h1v1h-1zM1142,555h1v3.5h-1zM1143,555h1v1.5h-1zM1144,555h1v1h-1zM1146,555h1v1.5h-1zM1146,555h1v1.5h-1zM1147,555h1v1h-1zM1147,555h1v0.5h-1zM1148,555h1v2h-1zM1148,555h1v6.5h-1zM1149,555h1v5.5h-1zM1150,555h1v5.5h-1zM1150,555h1v2h-1zM1150,555h1v2h-1zM1151,555h1v1.5h-1zM1151,555h1v1.5h-1zM1152,555h1v2h-1zM1153,555h1v1h-1zM1153,555h1v1h-1zM1154,555h1v0.5h-1zM1155,555h1v1h-1zM1155,555h1v1h-1zM1155,555h1v3h-1zM1158,555h1v3.5h-1zM1158,555h1v2h-1zM1159,555h1v1h-1zM1160,555h1v3.5h-1zM1160,555h1v2h-1zM1161,555h1v1h-1zM1162,555h1v2.5h-1zM1162,555h1v2.5h-1zM1163,555h1v2h-1zM1164,555h1v1.5h-1zM1165,555h1v3h-1zM1166,555h1v2.5h-1zM1166,555h1v3.5h-1zM1166,555h1v4h-1zM1167,555h1v4h-1zM1167,555h1v2h-1zM1168,555h1v3h-1zM1168,555h1v1h-1zM1169,555h1v3.5h-1zM1172,555h1v1.5h-1zM1173,555h1v0.5h-1zM1173,555h1v4h-1zM1174,555h1v1h-1zM1175,555h1v1h-1zM1176,555h1v1.5h-1zM1176,555h1v0.5h-1zM1178,555h1v3.5h-1zM1178,555h1v7h-1zM1180,555h1v1h-1zM1180,555h1v1.5h-1zM1181,555h1v1h-1zM1182,555h1v4h-1zM1184,555h1v2h-1zM1184,555h1v1.5h-1zM1185,555h1v2.5h-1zM1186,555h1v0.5h-1zM1186,555h1v3.5h-1zM1188,555h1v1.5h-1zM1189,555h1v1.5h-1zM1189,555h1v3h-1zM1190,555h1v8h-1zM1191,555h1v3h-1zM1192,555h1v1.5h-1zM1193,555h1v11h-1zM1193,555h1v4h-1zM1193,555h1v5.5h-1zM1195,555h1v11h-1zM1195,555h1v1.5h-1zM1196,555h1v1h-1zM1196,555h1v6h-1zM1197,555h1v1.5h-1zM1199,555h1v1.5h-1zM1201,555h1v0.5h-1zM1201,555h1v11h-1zM1202,555h1v0.5h-1zM1202,555h1v1h-1zM1205,555h1v1h-1zM1208,555h1v2h-1zM1209,555h1v2h-1zM1210,555h1v2.5h-1zM1210,555h1v1h-1zM1211,555h1v1.5h-1zM1211,555h1v4h-1zM1214,555h1v3.5h-1zM1214,555h1v1h-1zM1215,555h1v2h-1zM1215,555h1v1.5h-1zM1216,555h1v1.5h-1zM1216,555h1v1.5h-1zM1219,555h1v0.5h-1zM1220,555h1v1.5h-1zM1220,555h1v5.5h-1zM1221,555h1v1h-1zM1223,555h1v0.5h-1zM1223,555h1v1.5h-1zM1223,555h1v1h-1zM1225,555h1v1h-1zM1225,555h1v1.5h-1zM1225,555h1v1h-1zM1225,555h1v2h-1zM1226,555h1v3h-1zM1226,555h1v1.5h-1zM1227,555h1v2.5h-1zM1228,555h1v1h-1zM1228,555h1v1.5h-1zM1229,555h1v2h-1zM1232,555h1v4h-1zM1233,555h1v1h-1zM1234,555h1v1h-1zM1235,555h1v1h-1zM1242,555h1v1.5h-1zM1243,555h1v2.5h-1zM1244,555h1v2h-1zM1244,555h1v0.5h-1zM1245,555h1v1.5h-1zM1245,555h1v1h-1zM1247,555h1v1.5h-1zM1247,555h1v1h-1zM1248,555h1v6.5h-1zM1248,555h1v2h-1zM1249,555h1v1h-1zM1250,555h1v2.5h-1zM1250,555h1v4h-1zM1252,555h1v1h-1zM1253,555h1v1h-1zM1255,555h1v1h-1zM1256,555h1v1h-1zM1257,555h1v1.5h-1zM1258,555h1v0.5h-1zM1258,555h1v1h-1zM1259,555h1v3h-1zM1260,555h1v3.5h-1zM1260,555h1v5.5h-1zM1260,555h1v1.5h-1zM1262,555h1v1h-1zM1262,555h1v6.5h-1zM1262,555h1v3h-1zM1262,555h1v1h-1zM1263,555h1v0.5h-1zM1264,555h1v1h-1zM1264,555h1v0.5h-1zM1266,555h1v4h-1zM1267,555h1v3.5h-1zM1267,555h1v2.5h-1zM1267,555h1v1h-1zM1269,555h1v4.5h-1zM1271,555h1v1h-1zM1271,555h1v3h-1zM1272,555h1v7.5h-1zM1273,555h1v0.5h-1zM1273,555h1v1.5h-1zM1273,555h1v1h-1zM1275,555h1v1.5h-1zM1275,555h1v3.5h-1zM1275,555h1v3h-1zM1276,555h1v0.5h-1zM1277,555h1v1h-1zM1278,555h1v7h-1zM1278,555h1v4.5h-1zM1279,555h1v2.5h-1zM1279,555h1v2h-1zM1279,555h1v1h-1zM1282,555h1v1h-1zM1283,555h1v1.5h-1zM1284,555h1v1h-1zM1286,555h1v5h-1zM1287,555h1v3h-1zM1287,555h1v1h-1zM1287,555h1v3.5h-1zM1287,555h1v1h-1zM1287,555h1v0.5h-1zM1288,555h1v1h-1zM1288,555h1v0.5h-1zM1290,555h1v3h-1zM1290,555h1v1h-1zM1291,555h1v3.5h-1zM1293,555h1v1.5h-1zM1293,555h1v1.5h-1zM1295,555h1v11h-1zM1296,555h1v1.5h-1zM1296,555h1v0.5h-1zM1297,555h1v6h-1zM1298,555h1v1.5h-1zM1298,555h1v3h-1zM1298,555h1v1h-1zM1299,555h1v0.5h-1zM1299,555h1v1.5h-1zM1299,555h1v1h-1zM1301,555h1v1.5h-1zM1301,555h1v1.5h-1zM1303,555h1v0.5h-1zM1303,555h1v3.5h-1zM1303,555h1v1.5h-1zM1303,555h1v1.5h-1zM1303,555h1v2.5h-1zM1304,555h1v1.5h-1zM1305,555h1v0.5h-1zM1306,555h1v1h-1zM1307,555h1v2h-1zM1308,555h1v1.5h-1zM1310,555h1v1.5h-1zM1310,555h1v1.5h-1zM1310,555h1v6.5h-1zM1310,555h1v1.5h-1zM1312,555h1v1.5h-1zM1312,555h1v0.5h-1zM1312,555h1v3h-1zM1313,555h1v6h-1zM1313,555h1v4.5h-1zM1314,555h1v2.5h-1zM28,555.0h1V569.3h-1zM43,555.0h1V580.5h-1zM60,555.0h1V596.7h-1zM96,555.0h1V565.8h-1zM171,555.0h1V589.0h-1zM303,555.0h1V575.5h-1zM364,555.0h1V584.4h-1zM595,555.0h1V568.5h-1zM618,555.0h1V570.5h-1zM683,555.0h1V567.0h-1zM756,555.0h1V578.5h-1zM770,555.0h1V575.5h-1zM852,555.0h1V583.8h-1zM880,555.0h1V580.5h-1zM919,555.0h1V576.0h-1zM1033,555.0h1V565.8h-1zM1125,555.0h1V561.0h-1zM1207,555.0h1V562.0h-1zM1235,555.0h1V568.5h-1zM1274,555.0h1V563.0h-1z" fill="#f23645" fill-opacity="0.45"/>
<rect x="17" y="554.4" width="1300" height="1.6" fill="#9c9c9c"/>
<path d="M17.0,554.5 L20.0,553.5 L22.0,553.4 L24.0,553.8 L27.2,556.2 L29.2,557.0 L31.2,559.2 L33.2,560.3 L34.9,559.1 L36.6,559.2 L38.3,558.5 L39.9,559.5 L41.5,560.2 L43.2,562.0 L44.8,562.4 L46.4,564.3 L48.2,563.3 L50.0,561.9 L51.7,561.1 L53.5,560.8 L55.2,560.4 L57.0,560.8 L58.8,559.5 L60.5,559.8 L62.2,560.2 L63.9,561.7 L65.6,562.3 L67.3,562.3 L69.1,561.2 L70.8,560.3 L72.6,559.8 L74.2,560.4 L75.8,558.9 L77.5,560.0 L79.1,559.1 L80.7,559.3 L82.5,558.1 L84.2,557.4 L86.0,557.1 L87.8,556.7 L89.4,557.7 L91.0,557.3 L92.7,558.4 L94.3,559.0 L95.9,559.3 L97.6,558.9 L99.3,559.0 L101.0,558.8 L102.7,558.8 L104.3,559.5 L106.0,560.8 L107.7,560.5 L109.4,561.4 L111.0,561.2 L112.7,561.2 L114.4,561.8 L116.1,561.8 L117.8,561.2 L119.4,560.5 L121.1,560.3 L122.7,560.4 L124.3,560.0 L126.0,559.0 L127.6,559.2 L129.2,558.8 L131.0,559.7 L132.8,561.2 L134.7,561.8 L136.5,562.1 L138.3,563.3 L140.0,563.6 L141.6,561.9 L143.3,561.9 L145.0,562.0 L146.7,560.7 L148.3,560.8 L150.0,560.4 L151.7,560.8 L153.4,562.9 L155.1,564.2 L156.8,564.9 L158.5,564.8 L160.2,565.1 L162.0,564.0 L163.7,564.4 L165.4,563.9 L167.4,565.3 L169.4,566.6 L171.4,567.8 L173.6,566.9 L175.7,566.1 L177.4,567.3 L179.1,568.2 L180.8,568.2 L182.5,569.0 L184.2,569.5 L185.9,568.9 L187.7,570.2 L189.4,570.4 L191.1,571.2 L192.8,570.8 L194.5,571.4 L196.2,570.8 L197.9,571.1 L199.6,571.6 L201.3,570.8 L203.0,571.6 L204.7,571.8 L206.4,571.2 L208.1,571.1 L209.8,570.9 L211.6,571.9 L213.3,570.8 L215.0,570.9 L216.7,571.0 L218.4,571.1 L220.1,571.1 L221.9,569.4 L223.6,569.4 L225.3,569.0 L227.0,569.0 L228.7,569.5 L230.4,569.4 L232.2,569.4 L233.9,568.5 L235.6,568.6 L237.3,568.7 L239.0,568.8 L240.7,569.8 L242.4,570.2 L244.1,569.3 L245.8,570.1 L247.5,569.8 L249.2,570.1 L251.0,570.3 L252.7,570.9 L254.4,571.1 L256.1,571.0 L257.8,570.3 L259.5,569.8 L261.2,570.2 L262.9,569.9 L264.6,570.0 L266.3,569.7 L268.0,570.5 L269.7,570.2 L271.5,570.1 L273.2,570.3 L274.9,570.5 L276.6,570.4 L278.3,569.5 L280.0,570.5 L281.8,570.1 L283.5,570.0 L285.2,569.7 L286.9,569.0 L288.6,568.6 L290.3,568.4 L292.0,567.7 L293.7,568.2 L295.4,567.8 L297.1,567.6 L298.8,568.1 L300.6,568.7 L302.3,569.1 L304.0,570.1 L305.7,569.9 L307.4,569.5 L309.1,569.4 L310.8,569.7 L312.6,569.7 L314.3,570.1 L316.0,569.6 L317.7,570.9 L319.4,570.5 L321.1,570.4 L322.8,569.7 L324.5,569.7 L326.2,569.6 L327.9,569.7 L329.6,569.3 L331.3,568.7 L333.1,569.6 L334.8,569.6 L336.5,568.7 L338.2,568.7 L339.9,568.9 L341.6,568.4 L343.2,568.5 L344.9,569.0 L346.6,568.9 L348.3,569.9 L350.0,569.5 L351.7,568.6 L353.4,568.1 L355.1,569.1 L356.9,568.1 L358.6,567.1 L360.3,567.3 L362.0,566.9 L363.7,565.6 L365.4,565.8 L367.1,565.3 L368.8,565.8 L370.5,565.4 L372.3,564.9 L374.0,564.0 L375.7,564.1 L377.4,563.5 L379.1,562.7 L380.8,563.2 L382.5,562.4 L384.2,561.9 L385.9,562.1 L387.6,561.3 L389.4,560.9 L391.1,561.6 L392.8,561.0 L394.5,561.0 L396.2,560.1 L397.9,559.3 L399.6,558.1 L401.3,559.4 L403.1,560.2 L404.8,560.2 L406.5,561.5 L408.2,561.0 L409.9,560.2 L411.6,559.1 L413.3,559.3 L415.0,558.4 L416.7,558.7 L418.5,558.5 L420.2,559.0 L421.9,559.2 L423.6,558.4 L425.3,557.9 L427.0,558.2 L428.7,557.1 L431.3,553.6 L433.1,554.2 L435.0,554.1 L436.9,553.1 L438.7,552.8 L440.5,552.7 L442.4,553.0 L444.1,551.8 L445.8,551.0 L447.5,550.9 L449.2,549.9 L450.9,550.2 L452.6,549.9 L454.4,549.0 L456.1,549.0 L457.8,548.5 L459.5,547.8 L461.2,545.6 L462.9,545.1 L464.6,545.1 L466.3,545.2 L468.0,544.4 L470.6,541.7 L472.8,543.8 L474.9,545.1 L476.6,544.9 L478.3,543.9 L480.0,542.8 L481.7,542.7 L483.4,544.6 L485.2,545.6 L486.9,531.1 L488.6,530.8 L490.3,531.6 L492.0,531.8 L493.7,531.1 L495.4,533.2 L497.1,535.4 L498.9,538.4 L500.6,540.0 L502.3,539.2 L504.0,537.2 L505.7,536.5 L508.3,531.1 L510.8,535.9 L512.5,530.8 L514.2,526.8 L515.9,527.1 L517.7,529.1 L519.4,529.3 L521.1,528.5 L522.8,526.8 L525.4,530.7 L527.4,528.7 L529.4,528.3 L531.4,526.3 L533.1,528.4 L534.8,529.3 L536.5,530.3 L538.2,531.9 L540.2,533.3 L542.2,534.0 L544.2,535.9 L546.1,533.8 L548.1,533.9 L550.0,531.9 L551.7,533.8 L553.4,535.3 L555.1,537.0 L556.8,538.7 L558.6,538.9 L560.3,540.0 L562.0,538.8 L563.7,536.5 L565.4,538.0 L567.1,538.1 L568.8,539.6 L570.5,540.4 L572.2,541.7 L574.0,542.8 L575.7,544.4 L577.4,540.5 L579.1,539.9 L580.8,538.6 L582.5,538.2 L584.6,539.2 L586.8,540.5 L588.5,537.6 L590.2,536.5 L591.9,533.6 L593.6,534.1 L595.3,535.1 L597.0,535.9 L598.8,534.9 L600.5,533.6 L602.2,536.4 L603.9,537.9 L605.6,536.5 L607.3,535.3 L609.0,536.2 L610.7,535.9 L612.9,539.5 L615.0,543.0 L617.1,545.6 L619.3,548.2 L621.5,546.7 L623.6,545.1 L625.3,544.8 L627.0,545.9 L628.7,546.5 L630.4,547.3 L632.1,549.0 L633.8,548.6 L635.6,550.0 L637.3,549.9 L639.4,550.7 L641.5,552.4 L643.2,551.8 L645.0,551.6 L646.7,550.7 L648.8,551.9 L650.9,553.0 L652.6,552.9 L654.3,553.3 L656.1,553.5 L657.8,553.6 L659.5,554.2 L661.2,553.4 L662.9,554.3 L664.7,554.0 L666.4,554.3 L668.1,555.2 L669.8,555.0 L671.5,555.1 L673.2,555.3 L674.9,555.8 L676.6,556.1 L678.3,555.6 L680.0,555.9 L681.7,555.9 L683.5,557.2 L685.2,558.4 L687.3,559.3 L689.4,560.1 L691.4,559.4 L693.4,558.0 L695.4,557.1 L697.1,558.0 L698.9,558.9 L700.6,559.8 L702.3,560.4 L704.0,560.0 L705.7,560.2 L707.4,560.2 L709.1,559.1 L710.8,559.5 L712.5,559.3 L714.2,560.0 L715.9,560.0 L717.6,559.0 L719.4,559.0 L721.1,559.6 L722.8,559.1 L724.5,559.8 L726.2,559.5 L727.9,559.2 L729.6,560.2 L731.4,560.4 L733.1,560.6 L734.8,559.5 L736.5,560.1 L738.2,559.8 L739.9,559.0 L741.6,558.1 L743.3,558.4 L745.0,560.3 L746.7,560.5 L748.4,561.0 L750.0,560.1 L751.7,558.7 L753.4,558.8 L755.1,557.1 L756.8,556.0 L758.6,555.1 L760.3,554.2 L762.0,554.1 L763.7,553.0 L765.4,551.6 L767.1,552.4 L768.8,554.0 L770.5,555.4 L772.2,555.7 L774.0,555.8 L775.7,555.9 L777.4,556.7 L779.1,555.8 L780.8,555.7 L782.5,554.7 L784.2,554.7 L785.9,556.2 L787.6,556.8 L789.3,557.6 L791.0,556.5 L792.8,556.5 L794.5,556.5 L796.2,555.9 L797.9,556.1 L799.6,555.6 L801.4,557.2 L803.1,557.1 L804.8,557.6 L806.5,557.1 L808.2,556.4 L809.9,556.6 L811.6,556.2 L813.3,557.2 L815.0,556.7 L816.7,556.1 L818.4,555.6 L820.2,555.8 L821.9,556.3 L823.6,555.4 L825.3,555.3 L827.0,553.8 L828.7,553.1 L830.4,553.0 L832.1,552.9 L833.8,551.7 L835.6,551.2 L837.3,549.6 L839.0,549.5 L840.7,549.3 L842.4,550.6 L844.1,550.7 L845.8,551.2 L847.5,549.6 L849.2,549.9 L850.9,548.2 L852.6,550.1 L854.4,552.1 L856.1,553.3 L857.8,551.8 L859.5,552.1 L861.2,550.1 L862.9,549.9 L864.6,550.1 L866.3,549.2 L868.0,549.0 L869.7,549.2 L871.5,549.9 L873.2,550.2 L874.9,549.7 L876.6,547.6 L878.3,546.8 L880.5,548.8 L882.6,551.9 L884.8,549.2 L886.9,546.5 L888.6,544.8 L890.3,543.9 L892.3,545.0 L894.3,546.8 L896.3,549.0 L898.3,546.2 L900.3,544.4 L902.3,542.7 L904.4,543.9 L906.5,545.6 L908.2,544.2 L910.0,543.4 L912.1,545.7 L914.2,547.3 L915.9,545.0 L917.7,543.3 L919.4,541.3 L921.1,537.8 L922.8,535.3 L925.4,538.8 L927.1,536.6 L928.8,534.8 L930.5,535.4 L932.2,537.1 L933.9,538.8 L935.9,539.7 L938.0,542.3 L940.0,543.6 L941.9,541.5 L943.7,538.8 L945.6,537.1 L948.4,538.9 L950.5,536.9 L952.5,535.6 L954.6,532.9 L956.6,534.2 L958.5,537.1 L960.5,538.5 L962.4,537.9 L964.2,537.6 L966.1,537.7 L968.0,536.7 L969.7,535.8 L971.4,535.2 L973.0,534.7 L974.7,534.4 L976.4,532.9 L978.1,533.5 L979.8,535.1 L981.4,535.7 L983.1,536.5 L984.8,537.1 L986.7,537.3 L988.5,537.5 L990.4,538.0 L992.1,535.7 L993.8,534.8 L995.9,536.5 L998.0,538.8 L1000.1,541.7 L1001.8,539.8 L1003.6,536.7 L1005.3,534.8 L1007.6,532.1 L1010.0,530.5 L1011.9,528.0 L1013.7,527.3 L1015.6,524.9 L1017.5,521.3 L1019.3,516.5 L1020.6,510.0 L1023.1,512.8 L1025.4,514.5 L1027.7,515.6 L1030.5,514.7 L1032.4,516.7 L1034.3,519.3 L1037.1,516.9 L1039.9,521.2 L1041.8,518.0 L1043.6,515.6 L1045.4,511.5 L1047.3,508.1 L1049.7,502.9 L1052.0,497.9 L1054.3,492.2 L1056.6,487.6 L1059.4,491.3 L1061.8,480.5 L1064.1,469.9 L1066.9,477.3 L1068.6,469.7 L1070.3,462.8 L1072.9,468.9 L1075.3,463.3 L1077.2,468.7 L1079.0,472.7 L1080.9,474.8 L1082.8,475.5 L1085.1,482.1 L1087.4,488.5 L1089.8,486.7 L1092.1,485.7 L1093.9,491.5 L1095.8,496.0 L1098.2,500.9 L1100.5,506.3 L1102.8,506.1 L1105.2,506.3 L1107.5,500.7 L1109.8,496.5 L1111.8,495.3 L1113.7,494.5 L1115.6,487.9 L1117.5,490.7 L1119.2,481.4 L1120.8,472.1 L1123.4,469.3 L1125.3,476.8 L1127.4,471.9 L1129.6,466.9 L1131.4,469.8 L1133.3,473.6 L1135.2,467.7 L1137.1,461.8 L1139.9,443.2 L1142.6,446.9 L1145.4,444.1 L1147.9,432.0 L1149.6,439.4 L1152.5,425.4 L1154.8,431.0 L1157.0,438.1 L1160.0,429.6 L1162.0,434.1 L1164.1,439.4 L1165.8,436.5 L1167.5,434.8 L1170.6,444.1 L1172.5,454.4 L1174.7,448.6 L1176.8,443.2 L1178.4,443.0 L1180.0,444.1 L1182.2,447.9 L1184.3,453.1 L1187.4,440.0 L1189.3,437.6 L1191.2,435.7 L1194.0,425.4 L1196.8,437.6 L1198.6,432.0 L1201.4,436.6 L1203.2,432.9 L1205.1,430.1 L1207.4,441.3 L1209.6,438.2 L1211.7,434.8 L1214.5,433.8 L1216.5,428.2 L1218.6,422.6 L1220.3,424.4 L1222.0,425.4 L1224.7,438.9 L1227.5,428.2 L1229.8,433.8 L1232.2,438.9 L1235.0,430.1 L1237.8,429.2 L1240.2,413.3 L1242.8,430.1 L1244.7,427.3 L1246.2,433.8 L1249.0,422.6 L1250.9,430.1 L1252.7,428.2 L1254.0,414.3 L1255.8,399.6 L1257.6,384.3 L1259.8,393.3 L1262.5,386.5 L1264.3,394.4 L1267.0,392.2 L1269.2,400.1 L1271.5,406.8 L1273.8,379.8 L1275.6,383.2 L1278.3,361.8 L1280.1,358.4 L1281.7,349.2 L1283.3,340.4 L1285.1,347.1 L1286.9,328.0 L1289.1,330.2 L1290.8,315.1 L1292.4,301.3 L1294.1,285.8 L1295.8,294.5 L1297.5,304.3 L1300.4,321.2 L1302.3,305.4 L1304.2,289.0 L1305.9,302.5 L1307.6,315.6 L1309.4,309.9 L1312.6,333.1 L1314.8,323.5 L1316.6,330.2" fill="none" stroke="#089981" stroke-width="2.5" stroke-linejoin="round" stroke-linecap="butt" clip-path="url(#cu)"/>
<path d="M17.0,554.5 L20.0,553.5 L22.0,553.4 L24.0,553.8 L27.2,556.2 L29.2,557.0 L31.2,559.2 L33.2,560.3 L34.9,559.1 L36.6,559.2 L38.3,558.5 L39.9,559.5 L41.5,560.2 L43.2,562.0 L44.8,562.4 L46.4,564.3 L48.2,563.3 L50.0,561.9 L51.7,561.1 L53.5,560.8 L55.2,560.4 L57.0,560.8 L58.8,559.5 L60.5,559.8 L62.2,560.2 L63.9,561.7 L65.6,562.3 L67.3,562.3 L69.1,561.2 L70.8,560.3 L72.6,559.8 L74.2,560.4 L75.8,558.9 L77.5,560.0 L79.1,559.1 L80.7,559.3 L82.5,558.1 L84.2,557.4 L86.0,557.1 L87.8,556.7 L89.4,557.7 L91.0,557.3 L92.7,558.4 L94.3,559.0 L95.9,559.3 L97.6,558.9 L99.3,559.0 L101.0,558.8 L102.7,558.8 L104.3,559.5 L106.0,560.8 L107.7,560.5 L109.4,561.4 L111.0,561.2 L112.7,561.2 L114.4,561.8 L116.1,561.8 L117.8,561.2 L119.4,560.5 L121.1,560.3 L122.7,560.4 L124.3,560.0 L126.0,559.0 L127.6,559.2 L129.2,558.8 L131.0,559.7 L132.8,561.2 L134.7,561.8 L136.5,562.1 L138.3,563.3 L140.0,563.6 L141.6,561.9 L143.3,561.9 L145.0,562.0 L146.7,560.7 L148.3,560.8 L150.0,560.4 L151.7,560.8 L153.4,562.9 L155.1,564.2 L156.8,564.9 L158.5,564.8 L160.2,565.1 L162.0,564.0 L163.7,564.4 L165.4,563.9 L167.4,565.3 L169.4,566.6 L171.4,567.8 L173.6,566.9 L175.7,566.1 L177.4,567.3 L179.1,568.2 L180.8,568.2 L182.5,569.0 L184.2,569.5 L185.9,568.9 L187.7,570.2 L189.4,570.4 L191.1,571.2 L192.8,570.8 L194.5,571.4 L196.2,570.8 L197.9,571.1 L199.6,571.6 L201.3,570.8 L203.0,571.6 L204.7,571.8 L206.4,571.2 L208.1,571.1 L209.8,570.9 L211.6,571.9 L213.3,570.8 L215.0,570.9 L216.7,571.0 L218.4,571.1 L220.1,571.1 L221.9,569.4 L223.6,569.4 L225.3,569.0 L227.0,569.0 L228.7,569.5 L230.4,569.4 L232.2,569.4 L233.9,568.5 L235.6,568.6 L237.3,568.7 L239.0,568.8 L240.7,569.8 L242.4,570.2 L244.1,569.3 L245.8,570.1 L247.5,569.8 L249.2,570.1 L251.0,570.3 L252.7,570.9 L254.4,571.1 L256.1,571.0 L257.8,570.3 L259.5,569.8 L261.2,570.2 L262.9,569.9 L264.6,570.0 L266.3,569.7 L268.0,570.5 L269.7,570.2 L271.5,570.1 L273.2,570.3 L274.9,570.5 L276.6,570.4 L278.3,569.5 L280.0,570.5 L281.8,570.1 L283.5,570.0 L285.2,569.7 L286.9,569.0 L288.6,568.6 L290.3,568.4 L292.0,567.7 L293.7,568.2 L295.4,567.8 L297.1,567.6 L298.8,568.1 L300.6,568.7 L302.3,569.1 L304.0,570.1 L305.7,569.9 L307.4,569.5 L309.1,569.4 L310.8,569.7 L312.6,569.7 L314.3,570.1 L316.0,569.6 L317.7,570.9 L319.4,570.5 L321.1,570.4 L322.8,569.7 L324.5,569.7 L326.2,569.6 L327.9,569.7 L329.6,569.3 L331.3,568.7 L333.1,569.6 L334.8,569.6 L336.5,568.7 L338.2,568.7 L339.9,568.9 L341.6,568.4 L343.2,568.5 L344.9,569.0 L346.6,568.9 L348.3,569.9 L350.0,569.5 L351.7,568.6 L353.4,568.1 L355.1,569.1 L356.9,568.1 L358.6,567.1 L360.3,567.3 L362.0,566.9 L363.7,565.6 L365.4,565.8 L367.1,565.3 L368.8,565.8 L370.5,565.4 L372.3,564.9 L374.0,564.0 L375.7,564.1 L377.4,563.5 L379.1,562.7 L380.8,563.2 L382.5,562.4 L384.2,561.9 L385.9,562.1 L387.6,561.3 L389.4,560.9 L391.1,561.6 L392.8,561.0 L394.5,561.0 L396.2,560.1 L397.9,559.3 L399.6,558.1 L401.3,559.4 L403.1,560.2 L404.8,560.2 L406.5,561.5 L408.2,561.0 L409.9,560.2 L411.6,559.1 L413.3,559.3 L415.0,558.4 L416.7,558.7 L418.5,558.5 L420.2,559.0 L421.9,559.2 L423.6,558.4 L425.3,557.9 L427.0,558.2 L428.7,557.1 L431.3,553.6 L433.1,554.2 L435.0,554.1 L436.9,553.1 L438.7,552.8 L440.5,552.7 L442.4,553.0 L444.1,551.8 L445.8,551.0 L447.5,550.9 L449.2,549.9 L450.9,550.2 L452.6,549.9 L454.4,549.0 L456.1,549.0 L457.8,548.5 L459.5,547.8 L461.2,545.6 L462.9,545.1 L464.6,545.1 L466.3,545.2 L468.0,544.4 L470.6,541.7 L472.8,543.8 L474.9,545.1 L476.6,544.9 L478.3,543.9 L480.0,542.8 L481.7,542.7 L483.4,544.6 L485.2,545.6 L486.9,531.1 L488.6,530.8 L490.3,531.6 L492.0,531.8 L493.7,531.1 L495.4,533.2 L497.1,535.4 L498.9,538.4 L500.6,540.0 L502.3,539.2 L504.0,537.2 L505.7,536.5 L508.3,531.1 L510.8,535.9 L512.5,530.8 L514.2,526.8 L515.9,527.1 L517.7,529.1 L519.4,529.3 L521.1,528.5 L522.8,526.8 L525.4,530.7 L527.4,528.7 L529.4,528.3 L531.4,526.3 L533.1,528.4 L534.8,529.3 L536.5,530.3 L538.2,531.9 L540.2,533.3 L542.2,534.0 L544.2,535.9 L546.1,533.8 L548.1,533.9 L550.0,531.9 L551.7,533.8 L553.4,535.3 L555.1,537.0 L556.8,538.7 L558.6,538.9 L560.3,540.0 L562.0,538.8 L563.7,536.5 L565.4,538.0 L567.1,538.1 L568.8,539.6 L570.5,540.4 L572.2,541.7 L574.0,542.8 L575.7,544.4 L577.4,540.5 L579.1,539.9 L580.8,538.6 L582.5,538.2 L584.6,539.2 L586.8,540.5 L588.5,537.6 L590.2,536.5 L591.9,533.6 L593.6,534.1 L595.3,535.1 L597.0,535.9 L598.8,534.9 L600.5,533.6 L602.2,536.4 L603.9,537.9 L605.6,536.5 L607.3,535.3 L609.0,536.2 L610.7,535.9 L612.9,539.5 L615.0,543.0 L617.1,545.6 L619.3,548.2 L621.5,546.7 L623.6,545.1 L625.3,544.8 L627.0,545.9 L628.7,546.5 L630.4,547.3 L632.1,549.0 L633.8,548.6 L635.6,550.0 L637.3,549.9 L639.4,550.7 L641.5,552.4 L643.2,551.8 L645.0,551.6 L646.7,550.7 L648.8,551.9 L650.9,553.0 L652.6,552.9 L654.3,553.3 L656.1,553.5 L657.8,553.6 L659.5,554.2 L661.2,553.4 L662.9,554.3 L664.7,554.0 L666.4,554.3 L668.1,555.2 L669.8,555.0 L671.5,555.1 L673.2,555.3 L674.9,555.8 L676.6,556.1 L678.3,555.6 L680.0,555.9 L681.7,555.9 L683.5,557.2 L685.2,558.4 L687.3,559.3 L689.4,560.1 L691.4,559.4 L693.4,558.0 L695.4,557.1 L697.1,558.0 L698.9,558.9 L700.6,559.8 L702.3,560.4 L704.0,560.0 L705.7,560.2 L707.4,560.2 L709.1,559.1 L710.8,559.5 L712.5,559.3 L714.2,560.0 L715.9,560.0 L717.6,559.0 L719.4,559.0 L721.1,559.6 L722.8,559.1 L724.5,559.8 L726.2,559.5 L727.9,559.2 L729.6,560.2 L731.4,560.4 L733.1,560.6 L734.8,559.5 L736.5,560.1 L738.2,559.8 L739.9,559.0 L741.6,558.1 L743.3,558.4 L745.0,560.3 L746.7,560.5 L748.4,561.0 L750.0,560.1 L751.7,558.7 L753.4,558.8 L755.1,557.1 L756.8,556.0 L758.6,555.1 L760.3,554.2 L762.0,554.1 L763.7,553.0 L765.4,551.6 L767.1,552.4 L768.8,554.0 L770.5,555.4 L772.2,555.7 L774.0,555.8 L775.7,555.9 L777.4,556.7 L779.1,555.8 L780.8,555.7 L782.5,554.7 L784.2,554.7 L785.9,556.2 L787.6,556.8 L789.3,557.6 L791.0,556.5 L792.8,556.5 L794.5,556.5 L796.2,555.9 L797.9,556.1 L799.6,555.6 L801.4,557.2 L803.1,557.1 L804.8,557.6 L806.5,557.1 L808.2,556.4 L809.9,556.6 L811.6,556.2 L813.3,557.2 L815.0,556.7 L816.7,556.1 L818.4,555.6 L820.2,555.8 L821.9,556.3 L823.6,555.4 L825.3,555.3 L827.0,553.8 L828.7,553.1 L830.4,553.0 L832.1,552.9 L833.8,551.7 L835.6,551.2 L837.3,549.6 L839.0,549.5 L840.7,549.3 L842.4,550.6 L844.1,550.7 L845.8,551.2 L847.5,549.6 L849.2,549.9 L850.9,548.2 L852.6,550.1 L854.4,552.1 L856.1,553.3 L857.8,551.8 L859.5,552.1 L861.2,550.1 L862.9,549.9 L864.6,550.1 L866.3,549.2 L868.0,549.0 L869.7,549.2 L871.5,549.9 L873.2,550.2 L874.9,549.7 L876.6,547.6 L878.3,546.8 L880.5,548.8 L882.6,551.9 L884.8,549.2 L886.9,546.5 L888.6,544.8 L890.3,543.9 L892.3,545.0 L894.3,546.8 L896.3,549.0 L898.3,546.2 L900.3,544.4 L902.3,542.7 L904.4,543.9 L906.5,545.6 L908.2,544.2 L910.0,543.4 L912.1,545.7 L914.2,547.3 L915.9,545.0 L917.7,543.3 L919.4,541.3 L921.1,537.8 L922.8,535.3 L925.4,538.8 L927.1,536.6 L928.8,534.8 L930.5,535.4 L932.2,537.1 L933.9,538.8 L935.9,539.7 L938.0,542.3 L940.0,543.6 L941.9,541.5 L943.7,538.8 L945.6,537.1 L948.4,538.9 L950.5,536.9 L952.5,535.6 L954.6,532.9 L956.6,534.2 L958.5,537.1 L960.5,538.5 L962.4,537.9 L964.2,537.6 L966.1,537.7 L968.0,536.7 L969.7,535.8 L971.4,535.2 L973.0,534.7 L974.7,534.4 L976.4,532.9 L978.1,533.5 L979.8,535.1 L981.4,535.7 L983.1,536.5 L984.8,537.1 L986.7,537.3 L988.5,537.5 L990.4,538.0 L992.1,535.7 L993.8,534.8 L995.9,536.5 L998.0,538.8 L1000.1,541.7 L1001.8,539.8 L1003.6,536.7 L1005.3,534.8 L1007.6,532.1 L1010.0,530.5 L1011.9,528.0 L1013.7,527.3 L1015.6,524.9 L1017.5,521.3 L1019.3,516.5 L1020.6,510.0 L1023.1,512.8 L1025.4,514.5 L1027.7,515.6 L1030.5,514.7 L1032.4,516.7 L1034.3,519.3 L1037.1,516.9 L1039.9,521.2 L1041.8,518.0 L1043.6,515.6 L1045.4,511.5 L1047.3,508.1 L1049.7,502.9 L1052.0,497.9 L1054.3,492.2 L1056.6,487.6 L1059.4,491.3 L1061.8,480.5 L1064.1,469.9 L1066.9,477.3 L1068.6,469.7 L1070.3,462.8 L1072.9,468.9 L1075.3,463.3 L1077.2,468.7 L1079.0,472.7 L1080.9,474.8 L1082.8,475.5 L1085.1,482.1 L1087.4,488.5 L1089.8,486.7 L1092.1,485.7 L1093.9,491.5 L1095.8,496.0 L1098.2,500.9 L1100.5,506.3 L1102.8,506.1 L1105.2,506.3 L1107.5,500.7 L1109.8,496.5 L1111.8,495.3 L1113.7,494.5 L1115.6,487.9 L1117.5,490.7 L1119.2,481.4 L1120.8,472.1 L1123.4,469.3 L1125.3,476.8 L1127.4,471.9 L1129.6,466.9 L1131.4,469.8 L1133.3,473.6 L1135.2,467.7 L1137.1,461.8 L1139.9,443.2 L1142.6,446.9 L1145.4,444.1 L1147.9,432.0 L1149.6,439.4 L1152.5,425.4 L1154.8,431.0 L1157.0,438.1 L1160.0,429.6 L1162.0,434.1 L1164.1,439.4 L1165.8,436.5 L1167.5,434.8 L1170.6,444.1 L1172.5,454.4 L1174.7,448.6 L1176.8,443.2 L1178.4,443.0 L1180.0,444.1 L1182.2,447.9 L1184.3,453.1 L1187.4,440.0 L1189.3,437.6 L1191.2,435.7 L1194.0,425.4 L1196.8,437.6 L1198.6,432.0 L1201.4,436.6 L1203.2,432.9 L1205.1,430.1 L1207.4,441.3 L1209.6,438.2 L1211.7,434.8 L1214.5,433.8 L1216.5,428.2 L1218.6,422.6 L1220.3,424.4 L1222.0,425.4 L1224.7,438.9 L1227.5,428.2 L1229.8,433.8 L1232.2,438.9 L1235.0,430.1 L1237.8,429.2 L1240.2,413.3 L1242.8,430.1 L1244.7,427.3 L1246.2,433.8 L1249.0,422.6 L1250.9,430.1 L1252.7,428.2 L1254.0,414.3 L1255.8,399.6 L1257.6,384.3 L1259.8,393.3 L1262.5,386.5 L1264.3,394.4 L1267.0,392.2 L1269.2,400.1 L1271.5,406.8 L1273.8,379.8 L1275.6,383.2 L1278.3,361.8 L1280.1,358.4 L1281.7,349.2 L1283.3,340.4 L1285.1,347.1 L1286.9,328.0 L1289.1,330.2 L1290.8,315.1 L1292.4,301.3 L1294.1,285.8 L1295.8,294.5 L1297.5,304.3 L1300.4,321.2 L1302.3,305.4 L1304.2,289.0 L1305.9,302.5 L1307.6,315.6 L1309.4,309.9 L1312.6,333.1 L1314.8,323.5 L1316.6,330.2" fill="none" stroke="#f23645" stroke-width="2.4" stroke-linejoin="round" stroke-linecap="butt" clip-path="url(#cd)"/>
<rect x="18.0" y="590" width="3.4" height="5" fill="#862530"/><rect x="22.3" y="590" width="2.6" height="5" fill="#0b5c51"/><rect x="25.8" y="590" width="177.5" height="5" fill="#862530"/><rect x="204.2" y="590" width="228.8" height="5" fill="#0b5c51"/><rect x="433.9" y="590" width="2.0" height="5" fill="#0b5c51"/><rect x="437.0" y="590" width="2.1" height="5" fill="#862530"/><rect x="440.1" y="590" width="8.0" height="5" fill="#0b5c51"/><rect x="450.0" y="590" width="1.3" height="5" fill="#0b5c51"/><rect x="451.9" y="590" width="1.1" height="5" fill="#0b5c51"/><rect x="453.6" y="590" width="1.1" height="5" fill="#0b5c51"/><rect x="455.9" y="590" width="2.1" height="5" fill="#862530"/><rect x="459.0" y="590" width="4.4" height="5" fill="#0b5c51"/><rect x="464.0" y="590" width="1.1" height="5" fill="#0b5c51"/><rect x="465.8" y="590" width="1.0" height="5" fill="#862530"/><rect x="467.8" y="590" width="1.1" height="5" fill="#0b5c51"/><rect x="469.9" y="590" width="4.7" height="5" fill="#862530"/><rect x="475.6" y="590" width="12.4" height="5" fill="#0b5c51"/><rect x="489.0" y="590" width="11.8" height="5" fill="#862530"/><rect x="501.9" y="590" width="13.1" height="5" fill="#0b5c51"/><rect x="516.1" y="590" width="2.3" height="5" fill="#862530"/><rect x="519.3" y="590" width="1.7" height="5" fill="#0b5c51"/><rect x="522.0" y="590" width="225.3" height="5" fill="#862530"/><rect x="748.2" y="590" width="264.8" height="5" fill="#0b5c51"/><rect x="1014.3" y="590" width="5.8" height="5" fill="#0b5c51"/><rect x="1020.9" y="590" width="19.0" height="5" fill="#862530"/><rect x="1040.9" y="590" width="8.9" height="5" fill="#0b5c51"/><rect x="1050.8" y="590" width="6.8" height="5" fill="#0b5c51"/><rect x="1059.5" y="590" width="2.4" height="5" fill="#0b5c51"/><rect x="1063.0" y="590" width="1.0" height="5" fill="#0b5c51"/><rect x="1065.0" y="590" width="2.6" height="5" fill="#862530"/><rect x="1069.0" y="590" width="1.7" height="5" fill="#0b5c51"/><rect x="1071.8" y="590" width="33.3" height="5" fill="#862530"/><rect x="1105.9" y="590" width="35.1" height="5" fill="#0b5c51"/><rect x="1142.0" y="590" width="6.1" height="5" fill="#0b5c51"/><rect x="1148.8" y="590" width="1.0" height="5" fill="#862530"/><rect x="1150.8" y="590" width="1.2" height="5" fill="#0b5c51"/><rect x="1153.0" y="590" width="19.9" height="5" fill="#862530"/><rect x="1173.9" y="590" width="20.2" height="5" fill="#0b5c51"/><rect x="1194.9" y="590" width="12.1" height="5" fill="#862530"/><rect x="1208.0" y="590" width="10.2" height="5" fill="#0b5c51"/><rect x="1219.0" y="590" width="5.7" height="5" fill="#862530"/><rect x="1225.8" y="590" width="14.2" height="5" fill="#0b5c51"/><rect x="1241.0" y="590" width="5.9" height="5" fill="#862530"/><rect x="1247.9" y="590" width="10.1" height="5" fill="#0b5c51"/><rect x="1259.0" y="590" width="13.0" height="5" fill="#862530"/><rect x="1272.9" y="590" width="1.0" height="5" fill="#0b5c51"/><rect x="1274.9" y="590" width="9.2" height="5" fill="#0b5c51"/><rect x="1284.9" y="590" width="1.3" height="5" fill="#862530"/><rect x="1287.0" y="590" width="8.1" height="5" fill="#0b5c51"/><rect x="1296.1" y="590" width="16.7" height="5" fill="#862530"/><rect x="1313.8" y="590" width="2.4" height="5" fill="#0b5c51"/>
</svg>
<!-- legend overlay backgrounds -->
<div class="abs" style="left:14px;top:305px;width:110px;height:22px;background:rgba(15,15,15,0.7)"></div>
<div class="abs" style="left:14px;top:360px;width:139px;height:22px;background:rgba(15,15,15,0.6)"></div>
<svg class="abs" style="left:98px;top:306px" width="24" height="22" viewBox="98 306 24 22" fill="none" stroke="#c4c4c4" stroke-width="1.1" stroke-linecap="round">
<path d="M101.500 316.600c2-4 5-6 8.500-6s6.500 2 8.500 6c-2 4-5 6-8.500 6s-6.500-2-8.500-6z"/>
<circle cx="110" cy="316.600" r="2.800"/>
<path d="M104 322.800L116 310.400" stroke="#0f0f0f" stroke-width="3"/>
<path d="M104 322.800L116 310.400"/>
</svg>
<!-- collapse button -->
<div class="abs" style="left:17px;top:391px;width:32px;height:22px;border:1px solid #4a4a4a;border-radius:4px;background:#0f0f0f"></div>
<svg class="abs" style="left:17px;top:391px" width="32" height="22" viewBox="17 391 32 22" fill="none" stroke="#dbdbdb" stroke-width="1.2" stroke-linecap="round" stroke-linejoin="round"><path d="M29 404.300l4-3.800 4 3.800"/></svg>
<!-- price label -->
<div class="abs" style="left:1325px;top:321.9px;width:74.1px;height:18.7px;background:#089981;border-radius:2.5px"></div>
<div class="t" style="left:43.60px;top:13px;line-height:17px;height:17px;font-size:15.4px;color:#dbdbdb;-webkit-text-stroke:0.25px #dbdbdb"><span style="letter-spacing:-0.06px">Strategy</span><span style="letter-spacing:0.59px"> </span><span style="letter-spacing:-0.20px">Report</span></div>
<div class="t" style="left:20.50px;top:61px;line-height:17px;height:17px;font-size:15.4px;color:#f2f2f2;transform:scaleX(0.8784);font-weight:700"><span style="display:inline-block;transform:scaleX(0.952);transform-origin:0.00px 50%">SMC</span><span style="letter-spacing:-0.88px"> </span><span style="letter-spacing:-0.28px">EXEC</span><span style="letter-spacing:1.15px"> </span><span style="letter-spacing:-0.31px">PRO</span><span style="letter-spacing:2.21px"> </span><span style="letter-spacing:1.25px">v2.1</span><span style="letter-spacing:2.54px"> </span><span style="letter-spacing:-0.17px">STRAT</span></div>
<div class="t" style="left:1171.24px;top:61px;line-height:17px;height:17px;font-size:15.4px;color:#dbdbdb;transform:scaleX(0.9595);-webkit-text-stroke:0.25px #dbdbdb"><span style="letter-spacing:0.60px">Mar</span><span style="letter-spacing:-0.10px"> </span><span style="letter-spacing:0.78px">25,</span><span style="letter-spacing:-0.49px"> </span>2020<span style="letter-spacing:0.07px"> </span><span style="display:inline-block;transform:scaleX(0.690);transform-origin:0.00px 50%">—</span><span style="letter-spacing:-4.72px"> </span><span style="letter-spacing:0.75px">Mar</span><span style="letter-spacing:-0.15px"> </span><span style="letter-spacing:0.57px">30,</span><span style="letter-spacing:-0.08px"> </span><span style="letter-spacing:-0.14px">2026</span></div>
<div class="t" style="left:29.20px;top:103px;line-height:17px;height:17px;font-size:15.4px;color:#0f0f0f;-webkit-text-stroke:0.25px #0f0f0f"><span style="letter-spacing:0.18px">Metrics</span></div>
<div class="t" style="left:110.05px;top:103px;line-height:17px;height:17px;font-size:15.4px;color:#dbdbdb;-webkit-text-stroke:0.25px #dbdbdb"><span style="letter-spacing:0.06px">List</span><span style="letter-spacing:1.49px"> </span><span style="letter-spacing:0.84px">of</span><span style="letter-spacing:-0.09px"> </span><span style="letter-spacing:0.04px">trades</span></div>
<div class="t" style="left:17.30px;top:158px;line-height:20px;height:20px;font-size:17.6px;color:#8c8c8c;-webkit-text-stroke:0.28px #8c8c8c"><span style="letter-spacing:0.34px">Total</span><span style="letter-spacing:0.37px"> </span><span style="display:inline-block;transform:scaleX(0.927);transform-origin:1.00px 50%">P&amp;L</span></div>
<div class="t" style="left:292.60px;top:158px;line-height:20px;height:20px;font-size:17.6px;color:#8c8c8c;-webkit-text-stroke:0.28px #8c8c8c"><span style="display:inline-block;transform:scaleX(0.934);transform-origin:1.00px 50%">Max</span><span style="letter-spacing:-1.23px"> </span><span style="letter-spacing:0.49px">equity</span><span style="letter-spacing:0.53px"> </span><span style="letter-spacing:0.14px">drawdown</span></div>
<div class="t" style="left:569.90px;top:158px;line-height:20px;height:20px;font-size:17.6px;color:#8c8c8c;-webkit-text-stroke:0.28px #8c8c8c"><span style="letter-spacing:0.51px">Total</span><span style="letter-spacing:0.09px"> </span><span style="letter-spacing:-0.06px">trades</span></div>
<div class="t" style="left:845.70px;top:158px;line-height:20px;height:20px;font-size:17.6px;color:#8c8c8c;-webkit-text-stroke:0.28px #8c8c8c"><span style="letter-spacing:0.42px">Profitable</span><span style="letter-spacing:0.51px"> </span><span style="letter-spacing:-0.08px">trades</span></div>
<div class="t" style="left:1122.00px;top:158px;line-height:20px;height:20px;font-size:17.6px;color:#8c8c8c;-webkit-text-stroke:0.28px #8c8c8c"><span style="letter-spacing:0.60px">Profit</span><span style="letter-spacing:0.62px"> </span><span style="letter-spacing:0.53px">factor</span></div>
<div class="t" style="left:17.90px;top:187px;line-height:20px;height:20px;font-size:17.6px;color:#22ab94;-webkit-text-stroke:0.63px #22ab94"><span style="letter-spacing:-0.28px">+92,758.44</span></div>
<div class="t" style="left:106.60px;top:191px;line-height:15px;height:15px;font-size:13.2px;color:#22ab94;transform:scaleX(0.8036);-webkit-text-stroke:0.21px #22ab94">USDT</div>
<div class="t" style="left:145.60px;top:187px;line-height:20px;height:20px;font-size:17.6px;color:#22ab94;transform:scaleX(0.8940);-webkit-text-stroke:0.63px #22ab94">+927.58%</div>
<div class="t" style="left:294.00px;top:187px;line-height:20px;height:20px;font-size:17.6px;color:#e8e8e8;-webkit-text-stroke:0.63px #e8e8e8"><span style="letter-spacing:-0.27px">20,232.81</span></div>
<div class="t" style="left:372.66px;top:191px;line-height:15px;height:15px;font-size:13.2px;color:#e8e8e8;transform:scaleX(0.8409);-webkit-text-stroke:0.21px #e8e8e8">USDT</div>
<div class="t" style="left:412.60px;top:187px;line-height:20px;height:20px;font-size:17.6px;color:#e8e8e8;transform:scaleX(0.8846);-webkit-text-stroke:0.63px #e8e8e8">74.98%</div>
<div class="t" style="left:570.00px;top:187px;line-height:20px;height:20px;font-size:17.6px;color:#e8e8e8;-webkit-text-stroke:0.63px #e8e8e8"><span style="letter-spacing:-0.26px">1,635</span></div>
<div class="t" style="left:846.00px;top:187px;line-height:20px;height:20px;font-size:17.6px;color:#e8e8e8;transform:scaleX(0.8979);-webkit-text-stroke:0.63px #e8e8e8">44.10%</div>
<div class="t" style="left:909.40px;top:187px;line-height:20px;height:20px;font-size:17.6px;color:#e8e8e8;-webkit-text-stroke:0.63px #e8e8e8"><span style="letter-spacing:-0.09px">721/1635</span></div>
<div class="t" style="left:1122.60px;top:187px;line-height:20px;height:20px;font-size:17.6px;color:#e8e8e8;-webkit-text-stroke:0.63px #e8e8e8"><span style="letter-spacing:-0.21px">1.266</span></div>
<div class="t" style="left:16.80px;top:238px;line-height:17px;height:17px;font-size:15.4px;color:#f2f2f2;font-weight:700"><span style="letter-spacing:-0.33px">Equity</span><span style="letter-spacing:1.60px"> </span><span style="letter-spacing:0.05px">chart</span></div>
<div class="t" style="left:15.40px;top:281px;line-height:16px;height:16px;font-size:14.3px;color:#dbdbdb;-webkit-text-stroke:0.23px #dbdbdb"><span style="letter-spacing:0.04px">Equity</span></div>
<div class="t" style="left:15.68px;top:308px;line-height:16px;height:16px;font-size:14.3px;color:#4a4a4a;transform:scaleX(0.9177);-webkit-text-stroke:0.23px #4a4a4a"><span style="letter-spacing:-0.48px">Buy</span><span style="letter-spacing:3.67px"> </span><span style="display:inline-block;transform:scaleX(0.872);transform-origin:0.00px 50%">&amp;</span><span style="letter-spacing:1.75px"> </span><span style="letter-spacing:0.74px">hold</span></div>
<div class="t" style="left:16.20px;top:336px;line-height:16px;height:16px;font-size:14.3px;color:#dbdbdb;transform:scaleX(0.9562);-webkit-text-stroke:0.23px #dbdbdb"><span style="letter-spacing:-0.23px">Trades</span><span style="letter-spacing:1.23px"> </span><span style="letter-spacing:0.13px">excursions</span></div>
<div class="t" style="left:15.60px;top:363px;line-height:16px;height:16px;font-size:14.3px;color:#dbdbdb;-webkit-text-stroke:0.23px #dbdbdb"><span style="display:inline-block;transform:scaleX(0.945);transform-origin:1.00px 50%">Run-up</span><span style="letter-spacing:-0.66px"> </span><span style="display:inline-block;transform:scaleX(1.525);transform-origin:0.00px 50%">/</span><span style="letter-spacing:2.26px"> </span><span style="letter-spacing:-0.19px">Drawdowns</span></div>
<div class="t" style="left:1328.00px;top:305px;line-height:15px;height:15px;font-size:13.2px;color:#b8b8b8;-webkit-text-stroke:0.21px #b8b8b8">100,000.00</div>
<div class="t" style="left:1329.00px;top:354px;line-height:15px;height:15px;font-size:13.2px;color:#b8b8b8;-webkit-text-stroke:0.21px #b8b8b8"><span style="letter-spacing:-0.10px">80,000.00</span></div>
<div class="t" style="left:1329.00px;top:402px;line-height:15px;height:15px;font-size:13.2px;color:#b8b8b8;-webkit-text-stroke:0.21px #b8b8b8"><span style="letter-spacing:-0.10px">60,000.00</span></div>
<div class="t" style="left:1329.00px;top:450px;line-height:15px;height:15px;font-size:13.2px;color:#b8b8b8;-webkit-text-stroke:0.21px #b8b8b8"><span style="letter-spacing:-0.10px">40,000.00</span></div>
<div class="t" style="left:1329.00px;top:499px;line-height:15px;height:15px;font-size:13.2px;color:#b8b8b8;-webkit-text-stroke:0.21px #b8b8b8"><span style="letter-spacing:-0.10px">20,000.00</span></div>
<div class="t" style="left:1328.30px;top:548px;line-height:15px;height:15px;font-size:13.2px;color:#b8b8b8;transform:scaleX(0.9571);-webkit-text-stroke:0.21px #b8b8b8">0</div>
<div class="t" style="left:1334.80px;top:323px;line-height:15px;height:15px;font-size:13.2px;color:#ffffff;-webkit-text-stroke:0.32px #ffffff"><span style="letter-spacing:0.03px">92,758.45</span></div>
<div class="t" style="left:17.30px;top:605px;line-height:15px;height:15px;font-size:13.2px;color:#b8b8b8;transform:scaleX(0.9607);-webkit-text-stroke:0.21px #b8b8b8">Apr</div>
<div class="t" style="left:144.60px;top:604px;line-height:16px;height:16px;font-size:14.3px;color:#d0d0d0;transform:scaleX(0.9544);font-weight:700">2020</div>
<div class="t" style="left:245.10px;top:605px;line-height:15px;height:15px;font-size:13.2px;color:#b8b8b8;transform:scaleX(0.9134);-webkit-text-stroke:0.21px #b8b8b8">Apr</div>
<div class="t" style="left:337.10px;top:605px;line-height:15px;height:15px;font-size:13.2px;color:#b8b8b8;-webkit-text-stroke:0.21px #b8b8b8"><span style="letter-spacing:0.09px">Jul</span></div>
<div class="t" style="left:474.60px;top:604px;line-height:16px;height:16px;font-size:14.3px;color:#d0d0d0;transform:scaleX(0.9418);font-weight:700">2022</div>
<div class="t" style="left:578.50px;top:605px;line-height:15px;height:15px;font-size:13.2px;color:#b8b8b8;-webkit-text-stroke:0.21px #b8b8b8"><span style="letter-spacing:-0.26px">Jun</span></div>
<div class="t" style="left:693.40px;top:604px;line-height:16px;height:16px;font-size:14.3px;color:#d0d0d0;transform:scaleX(0.9669);font-weight:700">2023</div>
<div class="t" style="left:862.00px;top:604px;line-height:16px;height:16px;font-size:14.3px;color:#d0d0d0;font-weight:700"><span style="letter-spacing:-0.28px">2024</span></div>
<div class="t" style="left:969.00px;top:605px;line-height:15px;height:15px;font-size:13.2px;color:#b8b8b8;transform:scaleX(0.9652);-webkit-text-stroke:0.21px #b8b8b8">Jun</div>
<div class="t" style="left:1073.20px;top:604px;line-height:16px;height:16px;font-size:14.3px;color:#d0d0d0;transform:scaleX(0.9355);font-weight:700">2025</div>
<div class="t" style="left:1169.40px;top:605px;line-height:15px;height:15px;font-size:13.2px;color:#b8b8b8;-webkit-text-stroke:0.21px #b8b8b8"><span style="letter-spacing:-0.26px">Jun</span></div>
<div class="t" style="left:1252.90px;top:604px;line-height:16px;height:16px;font-size:14.3px;color:#d0d0d0;transform:scaleX(0.9387);font-weight:700">2026</div>
</body></html>
